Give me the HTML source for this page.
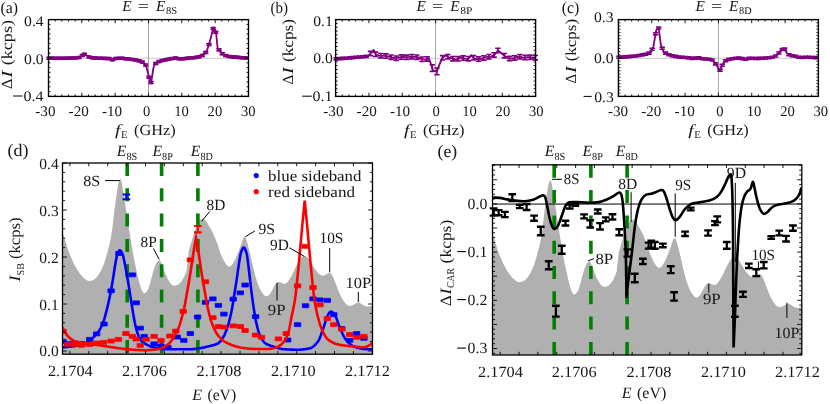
<!DOCTYPE html>
<html><head><meta charset="utf-8"><title>figure</title>
<style>html,body{margin:0;padding:0;background:#fff}svg{display:block;will-change:transform}text{font-family:"Liberation Serif",serif;fill:#161616;text-rendering:geometricPrecision}</style>
</head><body>
<svg width="830" height="404" viewBox="0 0 830 404">
<rect width="830" height="404" fill="#fff"/>
<line x1="48.5" y1="58.3" x2="248.5" y2="58.3" stroke="#c8c8c8" stroke-width="1.1"/>
<line x1="148.5" y1="19.6" x2="148.5" y2="96.4" stroke="#9a9a9a" stroke-width="0.9"/>
<path d="M48.5,58.2 L60.0,58.3 L70.0,58.2 L77.0,58.0 L80.0,57.2 L82.5,55.4 L84.3,54.3 L86.5,55.2 L89.5,57.2 L93.0,58.0 L100.0,58.3 L108.0,58.4 L111.0,59.0 L112.5,59.8 L114.5,58.8 L118.0,58.3 L122.0,58.3 L126.0,58.8 L130.0,59.2 L134.0,59.7 L137.0,60.3 L140.0,61.0 L142.5,62.2 L144.5,63.6 L146.0,65.5 L147.3,70.5 L148.8,76.5 L150.0,80.5 L151.0,82.5 L152.2,76.0 L153.4,68.0 L155.0,64.0 L157.0,62.4 L160.0,61.2 L164.0,60.0 L168.0,59.3 L172.0,58.6 L175.0,58.0 L178.0,58.6 L180.5,59.2 L184.0,58.5 L188.0,58.2 L192.0,57.9 L196.0,57.3 L199.0,56.8 L202.0,55.6 L204.5,53.8 L206.5,51.5 L208.8,45.2 L211.0,37.0 L213.2,28.6 L214.8,29.5 L216.2,34.0 L217.6,48.0 L219.5,50.5 L222.0,53.5 L225.0,55.4 L228.0,56.4 L232.0,56.9 L237.0,57.2 L242.0,57.7 L248.5,58.0" fill="none" stroke="#800080" stroke-width="1.8" stroke-linejoin="round"/>
<g fill="#800080"><circle cx="49.0" cy="58.2" r="1.85"/><path d="M49.0,57.2V59.2M46.3,57.2h5.4M46.3,59.2h5.4" stroke="#800080" stroke-width="1.5" fill="none"/><circle cx="52.3" cy="58.2" r="1.85"/><path d="M52.3,57.2V59.2M49.6,57.2h5.4M49.6,59.2h5.4" stroke="#800080" stroke-width="1.5" fill="none"/><circle cx="55.7" cy="58.3" r="1.85"/><path d="M55.7,57.3V59.3M53.0,57.3h5.4M53.0,59.3h5.4" stroke="#800080" stroke-width="1.5" fill="none"/><circle cx="59.0" cy="58.3" r="1.85"/><path d="M59.0,57.3V59.3M56.3,57.3h5.4M56.3,59.3h5.4" stroke="#800080" stroke-width="1.5" fill="none"/><circle cx="62.3" cy="58.3" r="1.85"/><path d="M62.3,57.3V59.3M59.6,57.3h5.4M59.6,59.3h5.4" stroke="#800080" stroke-width="1.5" fill="none"/><circle cx="65.7" cy="58.2" r="1.85"/><path d="M65.7,57.2V59.2M63.0,57.2h5.4M63.0,59.2h5.4" stroke="#800080" stroke-width="1.5" fill="none"/><circle cx="69.0" cy="58.2" r="1.85"/><path d="M69.0,57.2V59.2M66.3,57.2h5.4M66.3,59.2h5.4" stroke="#800080" stroke-width="1.5" fill="none"/><circle cx="72.3" cy="58.1" r="1.85"/><path d="M72.3,57.1V59.1M69.6,57.1h5.4M69.6,59.1h5.4" stroke="#800080" stroke-width="1.5" fill="none"/><circle cx="75.7" cy="58.0" r="1.85"/><path d="M75.7,57.0V59.0M73.0,57.0h5.4M73.0,59.0h5.4" stroke="#800080" stroke-width="1.5" fill="none"/><circle cx="79.0" cy="57.5" r="1.85"/><path d="M79.0,56.5V58.5M76.3,56.5h5.4M76.3,58.5h5.4" stroke="#800080" stroke-width="1.5" fill="none"/><circle cx="82.3" cy="55.5" r="1.85"/><path d="M82.3,54.5V56.5M79.6,54.5h5.4M79.6,56.5h5.4" stroke="#800080" stroke-width="1.5" fill="none"/><circle cx="84.3" cy="54.3" r="1.85"/><path d="M84.3,53.3V55.3M81.6,53.3h5.4M81.6,55.3h5.4" stroke="#800080" stroke-width="1.5" fill="none"/><circle cx="89.0" cy="56.9" r="1.85"/><path d="M89.0,55.9V57.9M86.3,55.9h5.4M86.3,57.9h5.4" stroke="#800080" stroke-width="1.5" fill="none"/><circle cx="92.3" cy="57.8" r="1.85"/><path d="M92.3,56.8V58.8M89.6,56.8h5.4M89.6,58.8h5.4" stroke="#800080" stroke-width="1.5" fill="none"/><circle cx="95.7" cy="58.1" r="1.85"/><path d="M95.7,57.1V59.1M93.0,57.1h5.4M93.0,59.1h5.4" stroke="#800080" stroke-width="1.5" fill="none"/><circle cx="99.0" cy="58.3" r="1.85"/><path d="M99.0,57.3V59.3M96.3,57.3h5.4M96.3,59.3h5.4" stroke="#800080" stroke-width="1.5" fill="none"/><circle cx="102.3" cy="58.3" r="1.85"/><path d="M102.3,57.3V59.3M99.6,57.3h5.4M99.6,59.3h5.4" stroke="#800080" stroke-width="1.5" fill="none"/><circle cx="105.7" cy="58.4" r="1.85"/><path d="M105.7,57.4V59.4M103.0,57.4h5.4M103.0,59.4h5.4" stroke="#800080" stroke-width="1.5" fill="none"/><circle cx="109.0" cy="58.6" r="1.85"/><path d="M109.0,57.6V59.6M106.3,57.6h5.4M106.3,59.6h5.4" stroke="#800080" stroke-width="1.5" fill="none"/><circle cx="112.3" cy="59.7" r="1.85"/><path d="M112.3,58.7V60.7M109.6,58.7h5.4M109.6,60.7h5.4" stroke="#800080" stroke-width="1.5" fill="none"/><circle cx="115.7" cy="58.6" r="1.85"/><path d="M115.7,57.6V59.6M113.0,57.6h5.4M113.0,59.6h5.4" stroke="#800080" stroke-width="1.5" fill="none"/><circle cx="119.0" cy="58.3" r="1.85"/><path d="M119.0,57.3V59.3M116.3,57.3h5.4M116.3,59.3h5.4" stroke="#800080" stroke-width="1.5" fill="none"/><circle cx="122.3" cy="58.3" r="1.85"/><path d="M122.3,57.3V59.3M119.6,57.3h5.4M119.6,59.3h5.4" stroke="#800080" stroke-width="1.5" fill="none"/><circle cx="125.7" cy="58.8" r="1.85"/><path d="M125.7,57.8V59.8M123.0,57.8h5.4M123.0,59.8h5.4" stroke="#800080" stroke-width="1.5" fill="none"/><circle cx="129.0" cy="59.1" r="1.85"/><path d="M129.0,58.1V60.1M126.3,58.1h5.4M126.3,60.1h5.4" stroke="#800080" stroke-width="1.5" fill="none"/><circle cx="132.3" cy="59.5" r="1.85"/><path d="M132.3,58.5V60.5M129.6,58.5h5.4M129.6,60.5h5.4" stroke="#800080" stroke-width="1.5" fill="none"/><circle cx="135.7" cy="60.0" r="1.85"/><path d="M135.7,59.0V61.0M133.0,59.0h5.4M133.0,61.0h5.4" stroke="#800080" stroke-width="1.5" fill="none"/><circle cx="139.0" cy="60.8" r="1.85"/><path d="M139.0,59.8V61.8M136.3,59.8h5.4M136.3,61.8h5.4" stroke="#800080" stroke-width="1.5" fill="none"/><circle cx="142.3" cy="62.1" r="1.85"/><path d="M142.3,61.1V63.1M139.6,61.1h5.4M139.6,63.1h5.4" stroke="#800080" stroke-width="1.5" fill="none"/><circle cx="145.7" cy="65.1" r="1.85"/><path d="M145.7,64.1V66.1M143.0,64.1h5.4M143.0,66.1h5.4" stroke="#800080" stroke-width="1.5" fill="none"/><circle cx="149.0" cy="77.2" r="1.85"/><path d="M149.0,76.2V78.2M146.3,76.2h5.4M146.3,78.2h5.4" stroke="#800080" stroke-width="1.5" fill="none"/><circle cx="151.0" cy="82.5" r="1.85"/><path d="M151.0,81.5V83.5M148.3,81.5h5.4M148.3,83.5h5.4" stroke="#800080" stroke-width="1.5" fill="none"/><circle cx="155.7" cy="63.5" r="1.85"/><path d="M155.7,62.5V64.5M153.0,62.5h5.4M153.0,64.5h5.4" stroke="#800080" stroke-width="1.5" fill="none"/><circle cx="159.0" cy="61.6" r="1.85"/><path d="M159.0,60.6V62.6M156.3,60.6h5.4M156.3,62.6h5.4" stroke="#800080" stroke-width="1.5" fill="none"/><circle cx="162.3" cy="60.5" r="1.85"/><path d="M162.3,59.5V61.5M159.6,59.5h5.4M159.6,61.5h5.4" stroke="#800080" stroke-width="1.5" fill="none"/><circle cx="165.7" cy="59.7" r="1.85"/><path d="M165.7,58.7V60.7M163.0,58.7h5.4M163.0,60.7h5.4" stroke="#800080" stroke-width="1.5" fill="none"/><circle cx="169.0" cy="59.1" r="1.85"/><path d="M169.0,58.1V60.1M166.3,58.1h5.4M166.3,60.1h5.4" stroke="#800080" stroke-width="1.5" fill="none"/><circle cx="172.3" cy="58.5" r="1.85"/><path d="M172.3,57.5V59.5M169.6,57.5h5.4M169.6,59.5h5.4" stroke="#800080" stroke-width="1.5" fill="none"/><circle cx="175.7" cy="58.1" r="1.85"/><path d="M175.7,57.1V59.1M173.0,57.1h5.4M173.0,59.1h5.4" stroke="#800080" stroke-width="1.5" fill="none"/><circle cx="179.0" cy="58.8" r="1.85"/><path d="M179.0,57.8V59.8M176.3,57.8h5.4M176.3,59.8h5.4" stroke="#800080" stroke-width="1.5" fill="none"/><circle cx="182.3" cy="58.8" r="1.85"/><path d="M182.3,57.8V59.8M179.6,57.8h5.4M179.6,59.8h5.4" stroke="#800080" stroke-width="1.5" fill="none"/><circle cx="185.7" cy="58.4" r="1.85"/><path d="M185.7,57.4V59.4M183.0,57.4h5.4M183.0,59.4h5.4" stroke="#800080" stroke-width="1.5" fill="none"/><circle cx="189.0" cy="58.1" r="1.85"/><path d="M189.0,57.1V59.1M186.3,57.1h5.4M186.3,59.1h5.4" stroke="#800080" stroke-width="1.5" fill="none"/><circle cx="192.3" cy="57.8" r="1.85"/><path d="M192.3,56.8V58.8M189.6,56.8h5.4M189.6,58.8h5.4" stroke="#800080" stroke-width="1.5" fill="none"/><circle cx="195.7" cy="57.4" r="1.85"/><path d="M195.7,56.4V58.4M193.0,56.4h5.4M193.0,58.4h5.4" stroke="#800080" stroke-width="1.5" fill="none"/><circle cx="199.0" cy="56.8" r="1.85"/><path d="M199.0,55.8V57.8M196.3,55.8h5.4M196.3,57.8h5.4" stroke="#800080" stroke-width="1.5" fill="none"/><circle cx="202.3" cy="55.4" r="1.85"/><path d="M202.3,54.4V56.4M199.6,54.4h5.4M199.6,56.4h5.4" stroke="#800080" stroke-width="1.5" fill="none"/><circle cx="205.7" cy="52.5" r="1.85"/><path d="M205.7,51.5V53.5M203.0,51.5h5.4M203.0,53.5h5.4" stroke="#800080" stroke-width="1.5" fill="none"/><circle cx="209.0" cy="44.5" r="1.85"/><path d="M209.0,43.5V45.5M206.3,43.5h5.4M206.3,45.5h5.4" stroke="#800080" stroke-width="1.5" fill="none"/><circle cx="213.2" cy="28.6" r="1.85"/><path d="M213.2,27.6V29.6M210.5,27.6h5.4M210.5,29.6h5.4" stroke="#800080" stroke-width="1.5" fill="none"/><circle cx="215.7" cy="32.3" r="1.85"/><path d="M215.7,31.3V33.3M213.0,31.3h5.4M213.0,33.3h5.4" stroke="#800080" stroke-width="1.5" fill="none"/><circle cx="219.0" cy="49.8" r="1.85"/><path d="M219.0,48.8V50.8M216.3,48.8h5.4M216.3,50.8h5.4" stroke="#800080" stroke-width="1.5" fill="none"/><circle cx="222.3" cy="53.7" r="1.85"/><path d="M222.3,52.7V54.7M219.6,52.7h5.4M219.6,54.7h5.4" stroke="#800080" stroke-width="1.5" fill="none"/><circle cx="225.7" cy="55.6" r="1.85"/><path d="M225.7,54.6V56.6M223.0,54.6h5.4M223.0,56.6h5.4" stroke="#800080" stroke-width="1.5" fill="none"/><circle cx="229.0" cy="56.5" r="1.85"/><path d="M229.0,55.5V57.5M226.3,55.5h5.4M226.3,57.5h5.4" stroke="#800080" stroke-width="1.5" fill="none"/><circle cx="232.3" cy="56.9" r="1.85"/><path d="M232.3,55.9V57.9M229.6,55.9h5.4M229.6,57.9h5.4" stroke="#800080" stroke-width="1.5" fill="none"/><circle cx="235.7" cy="57.1" r="1.85"/><path d="M235.7,56.1V58.1M233.0,56.1h5.4M233.0,58.1h5.4" stroke="#800080" stroke-width="1.5" fill="none"/><circle cx="239.0" cy="57.4" r="1.85"/><path d="M239.0,56.4V58.4M236.3,56.4h5.4M236.3,58.4h5.4" stroke="#800080" stroke-width="1.5" fill="none"/><circle cx="242.3" cy="57.7" r="1.85"/><path d="M242.3,56.7V58.7M239.6,56.7h5.4M239.6,58.7h5.4" stroke="#800080" stroke-width="1.5" fill="none"/><circle cx="245.7" cy="57.9" r="1.85"/><path d="M245.7,56.9V58.9M243.0,56.9h5.4M243.0,58.9h5.4" stroke="#800080" stroke-width="1.5" fill="none"/></g>
<rect x="48.5" y="19.6" width="200.0" height="76.8" fill="none" stroke="#000" stroke-width="1.35"/>
<path d="M48.50,96.4v-3.6M48.50,19.6v3.6M55.17,96.4v-2.0M55.17,19.6v2.0M61.83,96.4v-2.0M61.83,19.6v2.0M68.50,96.4v-2.0M68.50,19.6v2.0M75.17,96.4v-2.0M75.17,19.6v2.0M81.83,96.4v-3.6M81.83,19.6v3.6M88.50,96.4v-2.0M88.50,19.6v2.0M95.17,96.4v-2.0M95.17,19.6v2.0M101.83,96.4v-2.0M101.83,19.6v2.0M108.50,96.4v-2.0M108.50,19.6v2.0M115.17,96.4v-3.6M115.17,19.6v3.6M121.83,96.4v-2.0M121.83,19.6v2.0M128.50,96.4v-2.0M128.50,19.6v2.0M135.17,96.4v-2.0M135.17,19.6v2.0M141.83,96.4v-2.0M141.83,19.6v2.0M148.50,96.4v-3.6M148.50,19.6v3.6M155.17,96.4v-2.0M155.17,19.6v2.0M161.83,96.4v-2.0M161.83,19.6v2.0M168.50,96.4v-2.0M168.50,19.6v2.0M175.17,96.4v-2.0M175.17,19.6v2.0M181.83,96.4v-3.6M181.83,19.6v3.6M188.50,96.4v-2.0M188.50,19.6v2.0M195.17,96.4v-2.0M195.17,19.6v2.0M201.83,96.4v-2.0M201.83,19.6v2.0M208.50,96.4v-2.0M208.50,19.6v2.0M215.17,96.4v-3.6M215.17,19.6v3.6M221.83,96.4v-2.0M221.83,19.6v2.0M228.50,96.4v-2.0M228.50,19.6v2.0M235.17,96.4v-2.0M235.17,19.6v2.0M241.83,96.4v-2.0M241.83,19.6v2.0M248.50,96.4v-3.6M248.50,19.6v3.6M48.5,19.60h3.6M248.5,19.60h-3.6M48.5,24.40h2.0M248.5,24.40h-2.0M48.5,29.20h2.0M248.5,29.20h-2.0M48.5,34.00h2.0M248.5,34.00h-2.0M48.5,38.80h2.0M248.5,38.80h-2.0M48.5,43.60h2.0M248.5,43.60h-2.0M48.5,48.40h2.0M248.5,48.40h-2.0M48.5,53.20h2.0M248.5,53.20h-2.0M48.5,58.00h3.6M248.5,58.00h-3.6M48.5,62.80h2.0M248.5,62.80h-2.0M48.5,67.60h2.0M248.5,67.60h-2.0M48.5,72.40h2.0M248.5,72.40h-2.0M48.5,77.20h2.0M248.5,77.20h-2.0M48.5,82.00h2.0M248.5,82.00h-2.0M48.5,86.80h2.0M248.5,86.80h-2.0M48.5,91.60h2.0M248.5,91.60h-2.0M48.5,96.40h3.6M248.5,96.40h-3.6" stroke="#000" stroke-width="0.9" fill="none"/>
<text x="35.3" y="115.6" font-size="14.6" textLength="20.2" lengthAdjust="spacingAndGlyphs" text-anchor="start" >-30</text>
<text x="68.6" y="115.6" font-size="14.6" textLength="20.2" lengthAdjust="spacingAndGlyphs" text-anchor="start" >-20</text>
<text x="102.0" y="115.6" font-size="14.6" textLength="20.2" lengthAdjust="spacingAndGlyphs" text-anchor="start" >-10</text>
<text x="142.9" y="115.6" font-size="14.6" textLength="7.3" lengthAdjust="spacingAndGlyphs" text-anchor="start" >0</text>
<text x="174.2" y="115.6" font-size="14.6" textLength="14.6" lengthAdjust="spacingAndGlyphs" text-anchor="start" >10</text>
<text x="207.6" y="115.6" font-size="14.6" textLength="14.6" lengthAdjust="spacingAndGlyphs" text-anchor="start" >20</text>
<text x="240.9" y="115.6" font-size="14.6" textLength="14.6" lengthAdjust="spacingAndGlyphs" text-anchor="start" >30</text>
<text x="24.1" y="26.2" font-size="14.6" textLength="19.6" lengthAdjust="spacingAndGlyphs" text-anchor="start" >0.4</text>
<text x="24.1" y="63.5" font-size="14.6" textLength="19.6" lengthAdjust="spacingAndGlyphs" text-anchor="start" >0.0</text>
<line x1="13.1" y1="96.0" x2="22.7" y2="96.0" stroke="#000" stroke-width="1.0"/>
<text x="23.5" y="101.1" font-size="14.6" textLength="20.0" lengthAdjust="spacingAndGlyphs" text-anchor="start" >0.4</text>
<text x="0.5" y="13.2" font-size="16.4" textLength="17.6" lengthAdjust="spacingAndGlyphs" text-anchor="start" >(a)</text>
<text x="122.3" y="11.2" font-size="15.2" font-style="italic" textLength="9.4" lengthAdjust="spacingAndGlyphs" text-anchor="start" >E</text>
<text x="137.8" y="11.2" font-size="15.2" textLength="11.2" lengthAdjust="spacingAndGlyphs" text-anchor="start" >=</text>
<text x="155.9" y="11.2" font-size="15.2" font-style="italic" textLength="9.4" lengthAdjust="spacingAndGlyphs" text-anchor="start" >E</text>
<text x="165.9" y="14.3" font-size="10.4" textLength="11.2" lengthAdjust="spacingAndGlyphs" text-anchor="start" >8S</text>
<text x="115.0" y="135.3" font-size="15.4" font-style="italic" textLength="5.5" lengthAdjust="spacingAndGlyphs" text-anchor="start" >f</text>
<text x="121.0" y="138.2" font-size="10.2" textLength="6.6" lengthAdjust="spacingAndGlyphs" text-anchor="start" >E</text>
<text x="134.0" y="135.3" font-size="15.4" textLength="41.6" lengthAdjust="spacingAndGlyphs" text-anchor="start" >(GHz)</text>
<g transform="translate(11.6,89.0) rotate(-90)">
<text x="0.0" y="0.0" font-size="15.4" textLength="10.3" lengthAdjust="spacingAndGlyphs" text-anchor="start" >Δ</text>
<text x="11.2" y="0.0" font-size="15.4" font-style="italic" textLength="7.2" lengthAdjust="spacingAndGlyphs" text-anchor="start" >I</text>
<text x="23.7" y="0.0" font-size="15.4" textLength="45.3" lengthAdjust="spacingAndGlyphs" text-anchor="start" >(kcps)</text>
</g>
<line x1="335.6" y1="58.3" x2="535.6" y2="58.3" stroke="#c8c8c8" stroke-width="1.1"/>
<line x1="435.6" y1="19.6" x2="435.6" y2="96.4" stroke="#9a9a9a" stroke-width="0.9"/>
<path d="M335.6,58.9 L345.0,58.3 L355.0,57.4 L362.0,56.8 L368.0,56.2 L370.5,53.6 L373.7,49.9 L375.8,54.6 L379.0,55.6 L384.0,55.9 L388.0,56.4 L392.0,57.4 L395.5,58.4 L399.0,57.4 L403.0,56.9 L407.0,57.4 L411.0,56.6 L415.0,56.9 L418.0,57.4 L421.5,59.2 L425.5,59.6 L428.8,58.1 L431.0,64.4 L433.2,70.7 L436.9,71.4 L439.5,64.4 L442.2,58.1 L445.8,55.2 L449.0,57.6 L452.0,58.4 L456.3,59.6 L459.0,58.4 L461.5,57.7 L465.0,58.6 L467.9,59.2 L471.4,55.2 L474.2,58.7 L477.0,59.0 L480.5,59.2 L483.0,58.2 L485.7,57.1 L488.0,56.8 L491.0,56.6 L493.5,55.4 L495.2,53.9 L497.9,50.5 L501.5,53.3 L504.7,56.0 L508.9,58.5 L511.5,58.3 L514.1,58.1 L517.0,57.2 L519.4,56.6 L523.6,57.7 L527.8,57.1 L532.0,57.5 L535.6,57.7" fill="none" stroke="#800080" stroke-width="1.8" stroke-linejoin="round"/>
<g fill="#800080"><path d="M336.2,57.9V59.9M333.5,57.9h5.4M333.5,59.9h5.4" stroke="#800080" stroke-width="1.6" fill="none"/><path d="M339.5,57.6V59.6M336.8,57.6h5.4M336.8,59.6h5.4" stroke="#800080" stroke-width="1.6" fill="none"/><path d="M342.9,57.4V59.4M340.2,57.4h5.4M340.2,59.4h5.4" stroke="#800080" stroke-width="1.6" fill="none"/><path d="M346.2,57.2V59.2M343.5,57.2h5.4M343.5,59.2h5.4" stroke="#800080" stroke-width="1.6" fill="none"/><path d="M349.5,56.9V58.9M346.8,56.9h5.4M346.8,58.9h5.4" stroke="#800080" stroke-width="1.6" fill="none"/><path d="M352.8,56.6V58.6M350.1,56.6h5.4M350.1,58.6h5.4" stroke="#800080" stroke-width="1.6" fill="none"/><path d="M356.2,56.3V58.3M353.5,56.3h5.4M353.5,58.3h5.4" stroke="#800080" stroke-width="1.6" fill="none"/><path d="M359.5,56.0V58.0M356.8,56.0h5.4M356.8,58.0h5.4" stroke="#800080" stroke-width="1.6" fill="none"/><path d="M362.8,55.7V57.7M360.1,55.7h5.4M360.1,57.7h5.4" stroke="#800080" stroke-width="1.6" fill="none"/><path d="M366.2,55.4V57.4M363.5,55.4h5.4M363.5,57.4h5.4" stroke="#800080" stroke-width="1.6" fill="none"/><path d="M370.5,51.4V55.8M367.8,51.4h5.4M367.8,55.8h5.4" stroke="#800080" stroke-width="1.6" fill="none"/><path d="M375.6,52.1V56.5M372.9,52.1h5.4M372.9,56.5h5.4" stroke="#800080" stroke-width="1.6" fill="none"/><path d="M380.8,53.5V57.9M378.1,53.5h5.4M378.1,57.9h5.4" stroke="#800080" stroke-width="1.6" fill="none"/><path d="M385.9,53.9V58.3M383.2,53.9h5.4M383.2,58.3h5.4" stroke="#800080" stroke-width="1.6" fill="none"/><path d="M391.1,55.0V59.4M388.4,55.0h5.4M388.4,59.4h5.4" stroke="#800080" stroke-width="1.6" fill="none"/><path d="M396.2,56.0V60.4M393.6,56.0h5.4M393.6,60.4h5.4" stroke="#800080" stroke-width="1.6" fill="none"/><path d="M401.4,54.9V59.3M398.7,54.9h5.4M398.7,59.3h5.4" stroke="#800080" stroke-width="1.6" fill="none"/><path d="M406.6,55.1V59.5M403.9,55.1h5.4M403.9,59.5h5.4" stroke="#800080" stroke-width="1.6" fill="none"/><path d="M411.7,54.5V58.9M409.0,54.5h5.4M409.0,58.9h5.4" stroke="#800080" stroke-width="1.6" fill="none"/><path d="M416.9,55.0V59.4M414.2,55.0h5.4M414.2,59.4h5.4" stroke="#800080" stroke-width="1.6" fill="none"/><path d="M422.0,57.0V61.5M419.3,57.0h5.4M419.3,61.5h5.4" stroke="#800080" stroke-width="1.6" fill="none"/><path d="M427.1,56.7V61.1M424.4,56.7h5.4M424.4,61.1h5.4" stroke="#800080" stroke-width="1.6" fill="none"/><path d="M432.3,64.7V71.5M429.6,64.7h5.4M429.6,71.5h5.4" stroke="#800080" stroke-width="1.6" fill="none"/><path d="M436.9,68.0V74.8M434.2,68.0h5.4M434.2,74.8h5.4" stroke="#800080" stroke-width="1.6" fill="none"/><path d="M442.6,55.6V60.0M439.9,55.6h5.4M439.9,60.0h5.4" stroke="#800080" stroke-width="1.6" fill="none"/><path d="M447.8,54.5V58.9M445.1,54.5h5.4M445.1,58.9h5.4" stroke="#800080" stroke-width="1.6" fill="none"/><path d="M452.9,56.5V60.9M450.2,56.5h5.4M450.2,60.9h5.4" stroke="#800080" stroke-width="1.6" fill="none"/><path d="M458.1,56.6V61.0M455.4,56.6h5.4M455.4,61.0h5.4" stroke="#800080" stroke-width="1.6" fill="none"/><path d="M463.2,55.9V60.3M460.5,55.9h5.4M460.5,60.3h5.4" stroke="#800080" stroke-width="1.6" fill="none"/><path d="M468.4,56.5V60.9M465.7,56.5h5.4M465.7,60.9h5.4" stroke="#800080" stroke-width="1.6" fill="none"/><path d="M473.5,55.6V60.0M470.8,55.6h5.4M470.8,60.0h5.4" stroke="#800080" stroke-width="1.6" fill="none"/><path d="M478.6,56.9V61.3M475.9,56.9h5.4M475.9,61.3h5.4" stroke="#800080" stroke-width="1.6" fill="none"/><path d="M483.8,55.7V60.1M481.1,55.7h5.4M481.1,60.1h5.4" stroke="#800080" stroke-width="1.6" fill="none"/><path d="M488.9,54.5V58.9M486.2,54.5h5.4M486.2,58.9h5.4" stroke="#800080" stroke-width="1.6" fill="none"/><path d="M494.1,52.7V57.1M491.4,52.7h5.4M491.4,57.1h5.4" stroke="#800080" stroke-width="1.6" fill="none"/><path d="M497.9,48.3V52.7M495.2,48.3h5.4M495.2,52.7h5.4" stroke="#800080" stroke-width="1.6" fill="none"/><path d="M504.4,53.5V57.9M501.7,53.5h5.4M501.7,57.9h5.4" stroke="#800080" stroke-width="1.6" fill="none"/><path d="M509.6,56.2V60.6M506.9,56.2h5.4M506.9,60.6h5.4" stroke="#800080" stroke-width="1.6" fill="none"/><path d="M514.7,55.7V60.1M512.0,55.7h5.4M512.0,60.1h5.4" stroke="#800080" stroke-width="1.6" fill="none"/><path d="M519.9,54.5V58.9M517.1,54.5h5.4M517.1,58.9h5.4" stroke="#800080" stroke-width="1.6" fill="none"/><path d="M525.0,55.3V59.7M522.3,55.3h5.4M522.3,59.7h5.4" stroke="#800080" stroke-width="1.6" fill="none"/><path d="M530.1,55.1V59.5M527.4,55.1h5.4M527.4,59.5h5.4" stroke="#800080" stroke-width="1.6" fill="none"/><path d="M535.3,55.5V59.9M532.6,55.5h5.4M532.6,59.9h5.4" stroke="#800080" stroke-width="1.6" fill="none"/></g>
<rect x="335.6" y="19.6" width="200.0" height="76.8" fill="none" stroke="#000" stroke-width="1.35"/>
<path d="M335.60,96.4v-3.6M335.60,19.6v3.6M342.27,96.4v-2.0M342.27,19.6v2.0M348.93,96.4v-2.0M348.93,19.6v2.0M355.60,96.4v-2.0M355.60,19.6v2.0M362.27,96.4v-2.0M362.27,19.6v2.0M368.93,96.4v-3.6M368.93,19.6v3.6M375.60,96.4v-2.0M375.60,19.6v2.0M382.27,96.4v-2.0M382.27,19.6v2.0M388.93,96.4v-2.0M388.93,19.6v2.0M395.60,96.4v-2.0M395.60,19.6v2.0M402.27,96.4v-3.6M402.27,19.6v3.6M408.93,96.4v-2.0M408.93,19.6v2.0M415.60,96.4v-2.0M415.60,19.6v2.0M422.27,96.4v-2.0M422.27,19.6v2.0M428.93,96.4v-2.0M428.93,19.6v2.0M435.60,96.4v-3.6M435.60,19.6v3.6M442.27,96.4v-2.0M442.27,19.6v2.0M448.93,96.4v-2.0M448.93,19.6v2.0M455.60,96.4v-2.0M455.60,19.6v2.0M462.27,96.4v-2.0M462.27,19.6v2.0M468.93,96.4v-3.6M468.93,19.6v3.6M475.60,96.4v-2.0M475.60,19.6v2.0M482.27,96.4v-2.0M482.27,19.6v2.0M488.93,96.4v-2.0M488.93,19.6v2.0M495.60,96.4v-2.0M495.60,19.6v2.0M502.27,96.4v-3.6M502.27,19.6v3.6M508.93,96.4v-2.0M508.93,19.6v2.0M515.60,96.4v-2.0M515.60,19.6v2.0M522.27,96.4v-2.0M522.27,19.6v2.0M528.93,96.4v-2.0M528.93,19.6v2.0M535.60,96.4v-3.6M535.60,19.6v3.6M335.6,19.60h3.6M535.6,19.60h-3.6M335.6,23.44h2.0M535.6,23.44h-2.0M335.6,27.28h2.0M535.6,27.28h-2.0M335.6,31.12h2.0M535.6,31.12h-2.0M335.6,34.96h2.0M535.6,34.96h-2.0M335.6,38.80h2.0M535.6,38.80h-2.0M335.6,42.64h2.0M535.6,42.64h-2.0M335.6,46.48h2.0M535.6,46.48h-2.0M335.6,50.32h2.0M535.6,50.32h-2.0M335.6,54.16h2.0M535.6,54.16h-2.0M335.6,58.00h3.6M535.6,58.00h-3.6M335.6,61.84h2.0M535.6,61.84h-2.0M335.6,65.68h2.0M535.6,65.68h-2.0M335.6,69.52h2.0M535.6,69.52h-2.0M335.6,73.36h2.0M535.6,73.36h-2.0M335.6,77.20h2.0M535.6,77.20h-2.0M335.6,81.04h2.0M535.6,81.04h-2.0M335.6,84.88h2.0M535.6,84.88h-2.0M335.6,88.72h2.0M535.6,88.72h-2.0M335.6,92.56h2.0M535.6,92.56h-2.0M335.6,96.40h3.6M535.6,96.40h-3.6" stroke="#000" stroke-width="0.9" fill="none"/>
<text x="323.3" y="115.6" font-size="14.6" textLength="20.2" lengthAdjust="spacingAndGlyphs" text-anchor="start" >-30</text>
<text x="356.6" y="115.6" font-size="14.6" textLength="20.2" lengthAdjust="spacingAndGlyphs" text-anchor="start" >-20</text>
<text x="390.0" y="115.6" font-size="14.6" textLength="20.2" lengthAdjust="spacingAndGlyphs" text-anchor="start" >-10</text>
<text x="432.6" y="115.6" font-size="14.6" textLength="7.3" lengthAdjust="spacingAndGlyphs" text-anchor="start" >0</text>
<text x="462.2" y="115.6" font-size="14.6" textLength="14.6" lengthAdjust="spacingAndGlyphs" text-anchor="start" >10</text>
<text x="495.6" y="115.6" font-size="14.6" textLength="14.6" lengthAdjust="spacingAndGlyphs" text-anchor="start" >20</text>
<text x="528.9" y="115.6" font-size="14.6" textLength="14.6" lengthAdjust="spacingAndGlyphs" text-anchor="start" >30</text>
<text x="313.2" y="26.2" font-size="14.6" textLength="19.6" lengthAdjust="spacingAndGlyphs" text-anchor="start" >0.1</text>
<text x="313.2" y="63.3" font-size="14.6" textLength="19.6" lengthAdjust="spacingAndGlyphs" text-anchor="start" >0.0</text>
<line x1="302.2" y1="96.2" x2="311.8" y2="96.2" stroke="#000" stroke-width="1.0"/>
<text x="312.6" y="101.3" font-size="14.6" textLength="20.0" lengthAdjust="spacingAndGlyphs" text-anchor="start" >0.1</text>
<text x="270.5" y="13.2" font-size="16.4" textLength="17.6" lengthAdjust="spacingAndGlyphs" text-anchor="start" >(b)</text>
<text x="416.6" y="11.2" font-size="15.2" font-style="italic" textLength="9.4" lengthAdjust="spacingAndGlyphs" text-anchor="start" >E</text>
<text x="432.1" y="11.2" font-size="15.2" textLength="11.2" lengthAdjust="spacingAndGlyphs" text-anchor="start" >=</text>
<text x="450.2" y="11.2" font-size="15.2" font-style="italic" textLength="9.4" lengthAdjust="spacingAndGlyphs" text-anchor="start" >E</text>
<text x="460.2" y="14.3" font-size="10.4" textLength="12.2" lengthAdjust="spacingAndGlyphs" text-anchor="start" >8P</text>
<text x="403.9" y="135.3" font-size="15.4" font-style="italic" textLength="5.5" lengthAdjust="spacingAndGlyphs" text-anchor="start" >f</text>
<text x="409.9" y="138.2" font-size="10.2" textLength="6.6" lengthAdjust="spacingAndGlyphs" text-anchor="start" >E</text>
<text x="422.9" y="135.3" font-size="15.4" textLength="41.6" lengthAdjust="spacingAndGlyphs" text-anchor="start" >(GHz)</text>
<g transform="translate(293.4,84.6) rotate(-90)">
<text x="0.0" y="0.0" font-size="15.4" textLength="9.9" lengthAdjust="spacingAndGlyphs" text-anchor="start" >Δ</text>
<text x="10.7" y="0.0" font-size="15.4" font-style="italic" textLength="6.9" lengthAdjust="spacingAndGlyphs" text-anchor="start" >I</text>
<text x="22.5" y="0.0" font-size="15.4" textLength="43.2" lengthAdjust="spacingAndGlyphs" text-anchor="start" >(kcps)</text>
</g>
<line x1="618.4" y1="58.3" x2="818.4" y2="58.3" stroke="#c8c8c8" stroke-width="1.1"/>
<line x1="718.4" y1="19.6" x2="718.4" y2="96.4" stroke="#9a9a9a" stroke-width="0.9"/>
<path d="M618.4,57.3 L626.7,56.8 L635.1,56.1 L641.4,55.1 L646.7,53.9 L650.9,52.4 L653.4,46.5 L656.2,30.1 L658.7,28.0 L660.8,44.4 L663.5,51.8 L667.7,54.5 L673.0,56.0 L679.3,57.1 L685.6,57.5 L693.0,58.5 L698.2,57.7 L702.4,58.7 L708.7,59.2 L712.9,60.2 L715.5,63.8 L718.2,67.8 L720.0,70.1 L722.1,65.5 L724.6,61.3 L727.8,59.6 L733.0,58.5 L739.3,58.1 L745.6,59.2 L749.9,58.1 L756.2,58.5 L764.6,58.1 L770.9,57.5 L775.1,56.4 L778.2,53.9 L781.4,49.7 L784.6,49.1 L786.7,52.9 L789.8,55.4 L795.1,56.0 L800.3,57.7 L806.6,57.1 L813.0,57.5 L818.4,57.7" fill="none" stroke="#800080" stroke-width="1.8" stroke-linejoin="round"/>
<g fill="#800080"><path d="M618.9,56.3V58.3M616.2,56.3h5.4M616.2,58.3h5.4" stroke="#800080" stroke-width="1.6" fill="none"/><path d="M622.2,56.1V58.1M619.5,56.1h5.4M619.5,58.1h5.4" stroke="#800080" stroke-width="1.6" fill="none"/><path d="M625.6,55.9V57.9M622.9,55.9h5.4M622.9,57.9h5.4" stroke="#800080" stroke-width="1.6" fill="none"/><path d="M628.9,55.6V57.6M626.2,55.6h5.4M626.2,57.6h5.4" stroke="#800080" stroke-width="1.6" fill="none"/><path d="M632.2,55.3V57.3M629.5,55.3h5.4M629.5,57.3h5.4" stroke="#800080" stroke-width="1.6" fill="none"/><path d="M635.6,55.0V57.0M632.9,55.0h5.4M632.9,57.0h5.4" stroke="#800080" stroke-width="1.6" fill="none"/><path d="M638.9,54.5V56.5M636.2,54.5h5.4M636.2,56.5h5.4" stroke="#800080" stroke-width="1.6" fill="none"/><path d="M642.2,53.9V55.9M639.5,53.9h5.4M639.5,55.9h5.4" stroke="#800080" stroke-width="1.6" fill="none"/><path d="M645.6,53.2V55.2M642.9,53.2h5.4M642.9,55.2h5.4" stroke="#800080" stroke-width="1.6" fill="none"/><path d="M648.9,52.1V54.1M646.2,52.1h5.4M646.2,54.1h5.4" stroke="#800080" stroke-width="1.6" fill="none"/><path d="M652.2,48.3V50.3M649.5,48.3h5.4M649.5,50.3h5.4" stroke="#800080" stroke-width="1.6" fill="none"/><path d="M655.6,32.8V34.8M652.9,32.8h5.4M652.9,34.8h5.4" stroke="#800080" stroke-width="1.6" fill="none"/><path d="M658.7,27.0V29.0M656.0,27.0h5.4M656.0,29.0h5.4" stroke="#800080" stroke-width="1.6" fill="none"/><path d="M662.2,47.3V49.3M659.5,47.3h5.4M659.5,49.3h5.4" stroke="#800080" stroke-width="1.6" fill="none"/><path d="M665.6,52.1V54.1M662.9,52.1h5.4M662.9,54.1h5.4" stroke="#800080" stroke-width="1.6" fill="none"/><path d="M668.9,53.8V55.8M666.2,53.8h5.4M666.2,55.8h5.4" stroke="#800080" stroke-width="1.6" fill="none"/><path d="M672.2,54.8V56.8M669.5,54.8h5.4M669.5,56.8h5.4" stroke="#800080" stroke-width="1.6" fill="none"/><path d="M675.6,55.4V57.4M672.9,55.4h5.4M672.9,57.4h5.4" stroke="#800080" stroke-width="1.6" fill="none"/><path d="M678.9,56.0V58.0M676.2,56.0h5.4M676.2,58.0h5.4" stroke="#800080" stroke-width="1.6" fill="none"/><path d="M682.2,56.3V58.3M679.5,56.3h5.4M679.5,58.3h5.4" stroke="#800080" stroke-width="1.6" fill="none"/><path d="M685.6,56.5V58.5M682.9,56.5h5.4M682.9,58.5h5.4" stroke="#800080" stroke-width="1.6" fill="none"/><path d="M688.9,56.9V58.9M686.2,56.9h5.4M686.2,58.9h5.4" stroke="#800080" stroke-width="1.6" fill="none"/><path d="M692.2,57.4V59.4M689.5,57.4h5.4M689.5,59.4h5.4" stroke="#800080" stroke-width="1.6" fill="none"/><path d="M695.6,57.1V59.1M692.9,57.1h5.4M692.9,59.1h5.4" stroke="#800080" stroke-width="1.6" fill="none"/><path d="M698.9,56.9V58.9M696.2,56.9h5.4M696.2,58.9h5.4" stroke="#800080" stroke-width="1.6" fill="none"/><path d="M702.2,57.7V59.7M699.5,57.7h5.4M699.5,59.7h5.4" stroke="#800080" stroke-width="1.6" fill="none"/><path d="M705.6,58.0V60.0M702.9,58.0h5.4M702.9,60.0h5.4" stroke="#800080" stroke-width="1.6" fill="none"/><path d="M708.9,58.2V60.2M706.2,58.2h5.4M706.2,60.2h5.4" stroke="#800080" stroke-width="1.6" fill="none"/><path d="M712.2,59.0V61.0M709.5,59.0h5.4M709.5,61.0h5.4" stroke="#800080" stroke-width="1.6" fill="none"/><path d="M715.6,62.9V64.9M712.9,62.9h5.4M712.9,64.9h5.4" stroke="#800080" stroke-width="1.6" fill="none"/><path d="M720.0,69.1V71.1M717.3,69.1h5.4M717.3,71.1h5.4" stroke="#800080" stroke-width="1.6" fill="none"/><path d="M722.2,64.3V66.3M719.5,64.3h5.4M719.5,66.3h5.4" stroke="#800080" stroke-width="1.6" fill="none"/><path d="M725.6,59.8V61.8M722.9,59.8h5.4M722.9,61.8h5.4" stroke="#800080" stroke-width="1.6" fill="none"/><path d="M728.9,58.4V60.4M726.2,58.4h5.4M726.2,60.4h5.4" stroke="#800080" stroke-width="1.6" fill="none"/><path d="M732.2,57.7V59.7M729.5,57.7h5.4M729.5,59.7h5.4" stroke="#800080" stroke-width="1.6" fill="none"/><path d="M735.6,57.3V59.3M732.9,57.3h5.4M732.9,59.3h5.4" stroke="#800080" stroke-width="1.6" fill="none"/><path d="M738.9,57.1V59.1M736.2,57.1h5.4M736.2,59.1h5.4" stroke="#800080" stroke-width="1.6" fill="none"/><path d="M742.2,57.6V59.6M739.5,57.6h5.4M739.5,59.6h5.4" stroke="#800080" stroke-width="1.6" fill="none"/><path d="M745.6,58.2V60.2M742.9,58.2h5.4M742.9,60.2h5.4" stroke="#800080" stroke-width="1.6" fill="none"/><path d="M748.9,57.4V59.4M746.2,57.4h5.4M746.2,59.4h5.4" stroke="#800080" stroke-width="1.6" fill="none"/><path d="M752.2,57.2V59.2M749.5,57.2h5.4M749.5,59.2h5.4" stroke="#800080" stroke-width="1.6" fill="none"/><path d="M755.6,57.5V59.5M752.9,57.5h5.4M752.9,59.5h5.4" stroke="#800080" stroke-width="1.6" fill="none"/><path d="M758.9,57.4V59.4M756.2,57.4h5.4M756.2,59.4h5.4" stroke="#800080" stroke-width="1.6" fill="none"/><path d="M762.2,57.2V59.2M759.5,57.2h5.4M759.5,59.2h5.4" stroke="#800080" stroke-width="1.6" fill="none"/><path d="M765.6,57.0V59.0M762.9,57.0h5.4M762.9,59.0h5.4" stroke="#800080" stroke-width="1.6" fill="none"/><path d="M768.9,56.7V58.7M766.2,56.7h5.4M766.2,58.7h5.4" stroke="#800080" stroke-width="1.6" fill="none"/><path d="M772.2,56.2V58.2M769.5,56.2h5.4M769.5,58.2h5.4" stroke="#800080" stroke-width="1.6" fill="none"/><path d="M775.6,55.0V57.0M772.9,55.0h5.4M772.9,57.0h5.4" stroke="#800080" stroke-width="1.6" fill="none"/><path d="M778.9,52.0V54.0M776.2,52.0h5.4M776.2,54.0h5.4" stroke="#800080" stroke-width="1.6" fill="none"/><path d="M782.2,48.5V50.5M779.5,48.5h5.4M779.5,50.5h5.4" stroke="#800080" stroke-width="1.6" fill="none"/><path d="M784.6,48.1V50.1M781.9,48.1h5.4M781.9,50.1h5.4" stroke="#800080" stroke-width="1.6" fill="none"/><path d="M788.9,53.7V55.7M786.2,53.7h5.4M786.2,55.7h5.4" stroke="#800080" stroke-width="1.6" fill="none"/><path d="M792.2,54.7V56.7M789.5,54.7h5.4M789.5,56.7h5.4" stroke="#800080" stroke-width="1.6" fill="none"/><path d="M795.6,55.2V57.2M792.9,55.2h5.4M792.9,57.2h5.4" stroke="#800080" stroke-width="1.6" fill="none"/><path d="M798.9,56.2V58.2M796.2,56.2h5.4M796.2,58.2h5.4" stroke="#800080" stroke-width="1.6" fill="none"/><path d="M802.2,56.5V58.5M799.5,56.5h5.4M799.5,58.5h5.4" stroke="#800080" stroke-width="1.6" fill="none"/><path d="M805.6,56.2V58.2M802.9,56.2h5.4M802.9,58.2h5.4" stroke="#800080" stroke-width="1.6" fill="none"/><path d="M808.9,56.2V58.2M806.2,56.2h5.4M806.2,58.2h5.4" stroke="#800080" stroke-width="1.6" fill="none"/><path d="M812.2,56.5V58.5M809.5,56.5h5.4M809.5,58.5h5.4" stroke="#800080" stroke-width="1.6" fill="none"/><path d="M815.6,56.6V58.6M812.9,56.6h5.4M812.9,58.6h5.4" stroke="#800080" stroke-width="1.6" fill="none"/></g>
<rect x="618.4" y="19.6" width="200.0" height="76.8" fill="none" stroke="#000" stroke-width="1.35"/>
<path d="M618.40,96.4v-3.6M618.40,19.6v3.6M625.07,96.4v-2.0M625.07,19.6v2.0M631.73,96.4v-2.0M631.73,19.6v2.0M638.40,96.4v-2.0M638.40,19.6v2.0M645.07,96.4v-2.0M645.07,19.6v2.0M651.73,96.4v-3.6M651.73,19.6v3.6M658.40,96.4v-2.0M658.40,19.6v2.0M665.07,96.4v-2.0M665.07,19.6v2.0M671.73,96.4v-2.0M671.73,19.6v2.0M678.40,96.4v-2.0M678.40,19.6v2.0M685.07,96.4v-3.6M685.07,19.6v3.6M691.73,96.4v-2.0M691.73,19.6v2.0M698.40,96.4v-2.0M698.40,19.6v2.0M705.07,96.4v-2.0M705.07,19.6v2.0M711.73,96.4v-2.0M711.73,19.6v2.0M718.40,96.4v-3.6M718.40,19.6v3.6M725.07,96.4v-2.0M725.07,19.6v2.0M731.73,96.4v-2.0M731.73,19.6v2.0M738.40,96.4v-2.0M738.40,19.6v2.0M745.07,96.4v-2.0M745.07,19.6v2.0M751.73,96.4v-3.6M751.73,19.6v3.6M758.40,96.4v-2.0M758.40,19.6v2.0M765.07,96.4v-2.0M765.07,19.6v2.0M771.73,96.4v-2.0M771.73,19.6v2.0M778.40,96.4v-2.0M778.40,19.6v2.0M785.07,96.4v-3.6M785.07,19.6v3.6M791.73,96.4v-2.0M791.73,19.6v2.0M798.40,96.4v-2.0M798.40,19.6v2.0M805.07,96.4v-2.0M805.07,19.6v2.0M811.73,96.4v-2.0M811.73,19.6v2.0M818.40,96.4v-3.6M818.40,19.6v3.6M618.4,19.60h3.6M818.4,19.60h-3.6M618.4,22.80h2.0M818.4,22.80h-2.0M618.4,26.00h2.0M818.4,26.00h-2.0M618.4,29.20h2.0M818.4,29.20h-2.0M618.4,32.40h2.0M818.4,32.40h-2.0M618.4,35.60h2.0M818.4,35.60h-2.0M618.4,38.80h2.0M818.4,38.80h-2.0M618.4,42.00h2.0M818.4,42.00h-2.0M618.4,45.20h2.0M818.4,45.20h-2.0M618.4,48.40h2.0M818.4,48.40h-2.0M618.4,51.60h2.0M818.4,51.60h-2.0M618.4,54.80h2.0M818.4,54.80h-2.0M618.4,58.00h3.6M818.4,58.00h-3.6M618.4,61.20h2.0M818.4,61.20h-2.0M618.4,64.40h2.0M818.4,64.40h-2.0M618.4,67.60h2.0M818.4,67.60h-2.0M618.4,70.80h2.0M818.4,70.80h-2.0M618.4,74.00h2.0M818.4,74.00h-2.0M618.4,77.20h2.0M818.4,77.20h-2.0M618.4,80.40h2.0M818.4,80.40h-2.0M618.4,83.60h2.0M818.4,83.60h-2.0M618.4,86.80h2.0M818.4,86.80h-2.0M618.4,90.00h2.0M818.4,90.00h-2.0M618.4,93.20h2.0M818.4,93.20h-2.0M618.4,96.40h3.6M818.4,96.40h-3.6" stroke="#000" stroke-width="0.9" fill="none"/>
<text x="607.9" y="115.6" font-size="14.6" textLength="20.2" lengthAdjust="spacingAndGlyphs" text-anchor="start" >-30</text>
<text x="641.2" y="115.6" font-size="14.6" textLength="20.2" lengthAdjust="spacingAndGlyphs" text-anchor="start" >-20</text>
<text x="674.6" y="115.6" font-size="14.6" textLength="20.2" lengthAdjust="spacingAndGlyphs" text-anchor="start" >-10</text>
<text x="716.2" y="115.6" font-size="14.6" textLength="7.3" lengthAdjust="spacingAndGlyphs" text-anchor="start" >0</text>
<text x="746.8" y="115.6" font-size="14.6" textLength="14.6" lengthAdjust="spacingAndGlyphs" text-anchor="start" >10</text>
<text x="780.2" y="115.6" font-size="14.6" textLength="14.6" lengthAdjust="spacingAndGlyphs" text-anchor="start" >20</text>
<text x="813.5" y="115.6" font-size="14.6" textLength="14.6" lengthAdjust="spacingAndGlyphs" text-anchor="start" >30</text>
<text x="593.9" y="21.8" font-size="14.6" textLength="19.6" lengthAdjust="spacingAndGlyphs" text-anchor="start" >0.3</text>
<text x="593.9" y="63.3" font-size="14.6" textLength="19.6" lengthAdjust="spacingAndGlyphs" text-anchor="start" >0.0</text>
<line x1="583.6" y1="96.4" x2="591.7" y2="96.4" stroke="#000" stroke-width="1.0"/>
<text x="594.2" y="101.5" font-size="14.6" textLength="19.6" lengthAdjust="spacingAndGlyphs" text-anchor="start" >0.3</text>
<text x="561.8" y="13.2" font-size="16.4" textLength="17.6" lengthAdjust="spacingAndGlyphs" text-anchor="start" >(c)</text>
<text x="695.4" y="11.2" font-size="15.2" font-style="italic" textLength="9.4" lengthAdjust="spacingAndGlyphs" text-anchor="start" >E</text>
<text x="710.9" y="11.2" font-size="15.2" textLength="11.2" lengthAdjust="spacingAndGlyphs" text-anchor="start" >=</text>
<text x="729.0" y="11.2" font-size="15.2" font-style="italic" textLength="9.4" lengthAdjust="spacingAndGlyphs" text-anchor="start" >E</text>
<text x="739.0" y="14.3" font-size="10.4" textLength="12.6" lengthAdjust="spacingAndGlyphs" text-anchor="start" >8D</text>
<text x="688.2" y="135.3" font-size="15.4" font-style="italic" textLength="5.5" lengthAdjust="spacingAndGlyphs" text-anchor="start" >f</text>
<text x="694.2" y="138.2" font-size="10.2" textLength="6.6" lengthAdjust="spacingAndGlyphs" text-anchor="start" >E</text>
<text x="707.2" y="135.3" font-size="15.4" textLength="41.6" lengthAdjust="spacingAndGlyphs" text-anchor="start" >(GHz)</text>
<g transform="translate(575.6,83.5) rotate(-90)">
<text x="0.0" y="0.0" font-size="15.4" textLength="9.7" lengthAdjust="spacingAndGlyphs" text-anchor="start" >Δ</text>
<text x="10.5" y="0.0" font-size="15.4" font-style="italic" textLength="6.8" lengthAdjust="spacingAndGlyphs" text-anchor="start" >I</text>
<text x="22.2" y="0.0" font-size="15.4" textLength="42.4" lengthAdjust="spacingAndGlyphs" text-anchor="start" >(kcps)</text>
</g>
<path d="M62.5,231.5L64.0,236.6L65.8,242.6L67.9,249.8L71.0,257.2L73.9,263.7L77.0,269.2L79.8,273.6L82.8,277.0L85.7,279.5L87.8,280.7L89.7,281.1L92.5,280.4L95.6,278.5L98.6,274.8L101.6,269.6L104.2,263.2L106.5,255.7L108.5,248.2L110.5,239.9L112.5,227.5L114.5,209.5L116.5,195.0L118.4,183.3L119.6,179.6L120.6,179.0L121.8,182.5L122.9,189.7L124.8,201.0L126.8,214.5L129.3,231.0L131.8,246.6L134.2,260.0L136.7,271.4L139.2,282.5L141.2,289.0L142.8,292.2L144.3,293.4L145.9,292.6L148.1,289.4L150.2,283.0L152.1,275.5L154.1,268.6L156.2,263.2L158.0,260.8L159.3,260.2L160.7,261.5L162.8,266.5L165.0,272.9L167.5,278.5L170.9,283.9L173.0,285.4L174.9,285.8L177.0,285.3L178.8,284.2L181.0,281.8L182.8,279.3L184.8,275.2L186.7,270.4L188.7,251.6L191.2,242.6L193.7,234.3L196.2,227.3L198.6,221.9L200.6,219.4L202.6,218.4L205.0,220.0L207.5,223.4L210.5,228.5L213.5,234.3L216.0,240.6L218.4,246.6L220.0,252.5L222.5,258.0L224.9,262.5L227.0,265.5L228.6,266.6L230.5,266.2L232.3,264.6L234.8,260.2L237.3,254.7L239.2,249.8L241.0,244.8L242.8,239.6L244.2,236.8L245.4,237.2L246.7,241.0L248.2,246.0L249.7,252.2L251.5,260.0L253.4,268.3L255.2,275.5L257.1,281.9L259.0,286.8L260.8,290.5L262.6,293.4L264.5,295.5L266.0,296.2L267.5,296.2L269.0,295.1L270.7,293.0L272.3,290.0L273.9,286.8L275.2,284.6L276.4,283.1L277.7,282.1L278.9,281.9L280.3,282.3L281.8,283.1L283.3,283.8L284.8,283.9L286.4,283.0L288.0,281.4L289.8,278.8L291.7,275.7L294.2,270.5L296.7,265.3L299.2,260.6L301.5,257.4L303.5,256.0L305.3,255.9L307.8,257.6L311.5,263.3L315.2,269.5L319.0,274.0L321.0,275.3L322.7,275.7L324.5,275.3L326.4,274.5L328.0,273.3L329.4,272.7L330.6,273.2L331.8,274.5L333.4,277.8L335.0,281.9L336.9,286.8L338.8,291.8L340.6,295.8L342.5,299.2L344.3,302.0L346.2,304.2L348.0,305.6L349.9,306.1L351.8,305.6L353.6,304.7L355.2,303.7L356.6,302.9L357.7,302.5L358.6,302.4L359.8,302.8L361.0,303.7L362.9,305.0L364.8,306.1L366.6,306.6L368.5,306.6L370.5,306.2L372.4,305.6L372.4,354.2L62.5,354.2Z" fill="#b0b0b0"/>
<clipPath id="cd"><rect x="62.5" y="163.0" width="310.0" height="191.2"/></clipPath>
<line x1="127.2" y1="163.0" x2="127.2" y2="354.2" stroke="#008000" stroke-width="3.6" stroke-dasharray="13 12.3"/>
<line x1="161.6" y1="163.0" x2="161.6" y2="354.2" stroke="#008000" stroke-width="3.6" stroke-dasharray="13 12.3"/>
<line x1="197.9" y1="163.0" x2="197.9" y2="354.2" stroke="#008000" stroke-width="3.6" stroke-dasharray="13 12.3"/>
<path d="M62.5,347.3L63.1,347.3L63.7,347.2L64.3,347.2L64.9,347.1L65.5,347.0L66.1,347.0L66.7,346.9L67.3,346.9L67.9,346.8L68.5,346.8L69.1,346.7L69.7,346.6L70.3,346.6L70.9,346.5L71.5,346.4L72.1,346.4L72.7,346.3L73.3,346.2L73.9,346.2L74.5,346.1L75.1,346.0L75.7,346.0L76.3,345.9L76.9,345.8L77.5,345.7L78.1,345.6L78.7,345.5L79.3,345.4L79.9,345.3L80.5,345.2L81.1,345.0L81.7,344.8L82.3,344.7L82.9,344.5L83.5,344.3L84.1,344.0L84.7,343.8L85.3,343.5L85.9,343.2L86.5,342.9L87.1,342.6L87.7,342.2L88.3,341.7L88.9,341.3L89.5,340.7L90.1,340.2L90.7,339.7L91.3,339.2L91.9,338.7L92.5,338.1L93.1,337.6L93.7,337.0L94.3,336.5L94.9,335.9L95.5,335.2L96.1,334.6L96.7,333.9L97.3,333.1L97.9,332.3L98.5,331.5L99.1,330.6L99.7,329.6L100.3,328.6L100.9,327.5L101.5,326.3L102.1,325.0L102.7,323.6L103.3,322.0L103.9,320.2L104.5,318.3L105.1,316.1L105.7,313.9L106.3,311.6L106.9,309.3L107.5,306.9L108.1,304.3L108.7,301.6L109.3,298.8L109.9,295.9L110.5,292.9L111.1,289.8L111.7,286.5L112.3,283.1L112.9,279.6L113.5,275.8L114.1,271.7L114.7,267.7L115.3,264.1L115.9,260.7L116.5,257.6L117.1,255.1L117.7,253.5L118.3,252.1L118.9,251.0L119.5,250.4L119.7,250.4L120.1,250.5L120.7,251.0L121.3,251.8L121.9,252.8L122.5,253.9L123.1,255.8L123.7,258.4L124.3,261.3L124.9,264.2L125.5,267.2L126.1,270.4L126.7,273.8L127.3,277.3L127.9,280.8L128.5,284.4L129.1,288.1L129.7,291.9L130.3,295.6L130.9,299.4L131.5,303.2L132.1,306.9L132.7,310.5L133.3,314.2L133.9,317.8L134.5,321.1L135.1,324.1L135.7,326.7L136.3,329.0L136.9,331.1L137.5,333.0L138.1,334.8L138.7,336.5L139.3,337.9L139.9,339.0L140.5,339.8L141.1,340.5L141.7,341.1L142.3,341.7L142.9,342.2L143.5,342.6L144.1,343.1L144.7,343.4L145.3,343.8L145.9,344.1L146.5,344.5L147.1,344.8L147.7,345.1L148.3,345.4L148.9,345.7L149.5,345.9L150.1,346.2L150.7,346.4L151.3,346.6L151.9,346.8L152.5,347.0L153.1,347.2L153.7,347.3L154.3,347.5L154.9,347.6L155.5,347.7L156.1,347.9L156.7,348.0L157.3,348.1L157.9,348.2L158.5,348.4L159.1,348.5L159.7,348.6L160.3,348.7L160.9,348.8L161.5,348.9L162.1,349.0L162.7,349.0L163.3,349.1L163.9,349.2L164.5,349.2L165.1,349.2L165.7,349.3L166.3,349.3L166.9,349.3L167.5,349.3L168.1,349.3L168.7,349.3L169.3,349.3L169.9,349.3L170.5,349.3L171.1,349.3L171.7,349.3L172.3,349.3L172.9,349.3L173.5,349.3L174.1,349.3L174.7,349.3L175.3,349.3L175.9,349.3L176.5,349.3L177.1,349.3L177.7,349.3L178.3,349.3L178.9,349.3L179.5,349.3L180.1,349.3L180.7,349.3L181.3,349.3L181.9,349.3L182.5,349.3L183.1,349.3L183.7,349.3L184.3,349.3L184.9,349.3L185.5,349.3L186.1,349.3L186.7,349.3L187.3,349.3L187.9,349.3L188.5,349.3L189.1,349.3L189.7,349.3L190.3,349.3L190.9,349.2L191.5,349.2L192.1,349.2L192.7,349.1L193.3,349.1L193.9,349.0L194.5,348.9L195.1,348.9L195.7,348.8L196.0,348.7L196.3,348.7L196.9,348.6L197.5,348.5L198.1,348.5L198.7,348.4L199.3,348.3L199.9,348.2L200.5,348.1L201.1,348.0L201.7,347.9L202.3,347.8L202.9,347.7L203.5,347.5L204.1,347.4L204.7,347.3L205.3,347.1L205.9,347.0L206.5,346.8L207.1,346.7L207.7,346.5L208.3,346.4L208.9,346.2L209.5,346.1L210.1,345.9L210.7,345.8L211.3,345.6L211.9,345.5L212.5,345.3L213.1,345.2L213.7,345.0L214.3,344.9L214.9,344.7L215.5,344.5L216.1,344.3L216.7,344.0L217.3,343.7L217.9,343.5L218.5,343.1L219.1,342.6L219.7,342.1L220.3,341.4L220.9,340.7L221.5,339.8L222.1,339.0L222.7,338.0L223.3,337.0L223.9,336.0L224.5,334.9L225.1,333.6L225.7,332.1L226.3,330.5L226.9,328.8L227.5,327.0L228.1,325.1L228.7,323.1L229.3,320.9L229.9,318.5L230.5,316.0L231.1,313.2L231.7,310.3L232.3,307.1L232.9,303.5L233.5,299.6L234.1,295.7L234.7,292.0L235.3,288.3L235.9,284.7L236.5,280.9L237.1,276.8L237.7,272.4L238.3,268.0L238.9,264.1L239.5,260.2L240.1,256.5L240.7,253.5L241.3,251.7L241.9,250.1L242.5,248.8L243.1,247.9L243.7,247.5L243.8,247.5L244.3,247.7L244.9,248.6L245.5,249.9L246.1,251.6L246.7,253.7L247.3,257.2L247.9,261.7L248.5,266.3L249.1,271.5L249.7,277.0L250.3,282.1L250.9,287.2L251.5,292.1L252.1,296.7L252.7,301.1L253.3,305.4L253.9,309.3L254.5,313.0L255.1,316.5L255.7,319.8L256.3,322.8L256.9,325.4L257.5,327.8L258.1,330.1L258.7,332.2L259.3,334.1L259.9,335.6L260.5,336.8L261.1,337.9L261.7,338.9L262.3,339.9L262.9,340.8L263.5,341.5L264.1,342.2L264.7,342.8L265.3,343.3L265.9,343.7L266.5,344.0L267.1,344.3L267.7,344.6L268.3,344.9L268.9,345.1L269.5,345.3L270.1,345.6L270.7,345.8L271.3,345.9L271.9,346.1L272.5,346.3L273.1,346.5L273.7,346.7L274.3,346.9L274.9,347.1L275.5,347.3L276.1,347.5L276.7,347.7L277.3,347.9L277.9,348.1L278.5,348.2L279.1,348.4L279.7,348.6L280.3,348.7L280.9,348.8L281.5,349.0L282.1,349.1L282.7,349.1L283.3,349.2L283.9,349.3L284.5,349.3L285.1,349.3L285.7,349.4L286.3,349.4L286.9,349.4L287.5,349.5L288.1,349.5L288.7,349.5L289.3,349.5L289.9,349.5L290.5,349.6L291.1,349.6L291.7,349.6L292.3,349.6L292.9,349.6L293.5,349.6L294.1,349.7L294.7,349.7L295.3,349.7L295.9,349.7L296.5,349.7L297.1,349.7L297.7,349.7L298.3,349.7L298.9,349.7L299.5,349.7L300.1,349.7L300.7,349.6L301.3,349.6L301.9,349.5L302.5,349.5L303.1,349.4L303.7,349.4L304.3,349.3L304.7,349.2L304.9,349.2L305.5,349.1L306.1,349.0L306.7,348.9L307.3,348.8L307.9,348.7L308.5,348.6L309.1,348.5L309.7,348.4L310.3,348.2L310.9,348.0L311.5,347.7L312.1,347.4L312.7,347.0L313.3,346.6L313.9,346.0L314.5,345.5L315.1,344.9L315.7,344.2L316.3,343.5L316.9,342.8L317.5,342.1L318.1,341.3L318.7,340.3L319.3,339.1L319.9,337.7L320.5,336.2L321.1,334.5L321.7,332.8L322.3,331.1L322.9,329.5L323.5,327.8L324.1,325.9L324.7,324.0L325.3,322.1L325.9,320.3L326.5,318.6L327.1,317.1L327.7,315.7L328.3,314.3L328.9,313.3L329.5,312.6L330.1,312.2L330.7,311.8L331.3,311.7L331.9,311.9L332.5,312.2L333.1,312.7L333.7,313.3L334.3,314.0L334.9,314.9L335.5,316.0L336.1,317.4L336.7,318.9L337.3,320.6L337.9,322.4L338.5,324.1L339.1,325.8L339.7,327.3L340.3,328.6L340.9,330.0L341.5,331.4L342.1,332.8L342.7,334.1L343.3,335.4L343.9,336.5L344.5,337.6L345.1,338.6L345.7,339.4L346.3,340.1L346.9,340.8L347.5,341.5L348.1,342.2L348.7,342.8L349.3,343.4L349.9,343.9L350.5,344.4L351.1,344.9L351.7,345.3L352.3,345.6L352.9,346.0L353.5,346.3L354.1,346.5L354.7,346.7L355.3,347.0L355.9,347.2L356.5,347.4L357.1,347.6L357.7,347.8L358.3,347.9L358.9,348.1L359.5,348.3L360.1,348.4L360.7,348.5L361.3,348.6L361.9,348.7L362.5,348.8L363.1,348.9L363.7,348.9L364.3,349.0L364.9,349.0L365.5,349.0L366.1,349.1L366.7,349.1L367.3,349.1L367.9,349.2L368.5,349.2L369.1,349.2L369.7,349.3L370.3,349.3L370.9,349.3L371.5,349.3L372.1,349.3" fill="none" stroke="#0000ff" stroke-width="2.6" stroke-linejoin="miter" stroke-miterlimit="6" clip-path="url(#cd)"/>
<path d="M59.8,339.4h6.4v3.9h-6.4zM64.7,341.7h6.4v3.9h-6.4zM71.7,341.2h6.4v3.9h-6.4zM78.6,341.4h6.4v3.9h-6.4zM86.5,337.4h6.4v3.9h-6.4zM93.4,331.9h6.4v3.9h-6.4zM100.8,322.1h6.4v3.9h-6.4zM107.9,288.9h6.4v3.9h-6.4zM115.7,251.5h6.4v3.9h-6.4zM129.2,272.9h6.4v3.9h-6.4zM133.0,300.9h6.4v3.9h-6.4zM137.0,326.2h6.4v3.9h-6.4zM141.0,334.4h6.4v3.9h-6.4zM150.9,341.9h6.4v3.9h-6.4zM157.8,344.1h6.4v3.9h-6.4zM164.7,345.4h6.4v3.9h-6.4zM174.0,335.1h6.4v3.9h-6.4zM180.6,338.4h6.4v3.9h-6.4zM187.1,331.6h6.4v3.9h-6.4zM194.4,315.1h6.4v3.9h-6.4zM202.3,300.4h6.4v3.9h-6.4zM209.7,296.9h6.4v3.9h-6.4zM215.2,303.4h6.4v3.9h-6.4zM220.7,312.2h6.4v3.9h-6.4zM230.0,297.2h6.4v3.9h-6.4zM237.1,290.9h6.4v3.9h-6.4zM241.9,283.1h6.4v3.9h-6.4zM252.4,314.7h6.4v3.9h-6.4zM284.5,338.1h6.4v3.9h-6.4zM294.4,322.7h6.4v3.9h-6.4zM302.3,303.8h6.4v3.9h-6.4zM309.8,296.9h6.4v3.9h-6.4zM316.8,297.9h6.4v3.9h-6.4zM324.1,298.4h6.4v3.9h-6.4zM330.6,312.8h6.4v3.9h-6.4zM338.5,326.6h6.4v3.9h-6.4zM346.5,338.4h6.4v3.9h-6.4zM353.4,331.6h6.4v3.9h-6.4zM360.7,336.4h6.4v3.9h-6.4z" fill="#0000ff" stroke="#0000ff" stroke-width="0.8" clip-path="url(#cd)"/>
<path d="M62.5,327.5L63.1,328.8L63.7,329.9L64.3,331.1L64.9,332.1L65.5,333.1L66.1,333.9L66.7,334.7L67.3,335.5L67.9,336.2L68.5,336.8L69.1,337.4L69.7,338.0L70.3,338.4L70.9,338.9L71.5,339.3L72.1,339.7L72.7,340.1L73.3,340.4L73.9,340.7L74.5,341.0L75.1,341.2L75.7,341.4L76.3,341.6L76.9,341.8L77.5,341.9L78.1,342.1L78.7,342.2L79.3,342.3L79.9,342.4L80.5,342.5L81.1,342.6L81.7,342.8L82.3,342.9L82.9,343.0L83.5,343.1L84.1,343.1L84.7,343.2L85.3,343.3L85.9,343.4L86.5,343.5L87.1,343.6L87.7,343.7L88.3,343.8L88.9,343.8L89.5,343.9L90.1,344.0L90.7,344.1L91.3,344.2L91.9,344.3L92.5,344.3L93.1,344.4L93.7,344.5L94.3,344.6L94.9,344.7L95.5,344.7L96.1,344.8L96.7,344.9L97.3,345.0L97.9,345.1L98.5,345.1L99.1,345.2L99.7,345.3L100.3,345.4L100.9,345.5L101.5,345.6L102.1,345.7L102.7,345.8L103.3,345.9L103.9,345.9L104.5,346.0L105.1,346.1L105.7,346.2L106.3,346.3L106.9,346.4L107.5,346.5L108.1,346.6L108.7,346.7L109.3,346.8L109.9,346.9L110.5,347.0L111.1,347.1L111.7,347.2L112.3,347.3L112.9,347.3L113.5,347.4L114.1,347.5L114.7,347.6L115.3,347.7L115.9,347.8L116.5,347.9L117.1,348.0L117.7,348.1L118.3,348.2L118.9,348.2L119.5,348.3L119.7,348.3L120.1,348.4L120.7,348.5L121.3,348.5L121.9,348.6L122.5,348.7L123.1,348.8L123.7,348.9L124.3,348.9L124.9,349.0L125.5,349.1L126.1,349.1L126.7,349.2L127.3,349.3L127.9,349.3L128.5,349.4L129.1,349.4L129.7,349.5L130.3,349.5L130.9,349.6L131.5,349.6L132.1,349.6L132.7,349.7L133.3,349.7L133.9,349.8L134.5,349.8L135.1,349.9L135.7,349.9L136.3,349.9L136.9,350.0L137.5,350.0L138.1,350.0L138.7,350.1L139.3,350.1L139.9,350.1L140.5,350.1L141.1,350.1L141.7,350.2L142.3,350.2L142.9,350.2L143.5,350.2L144.1,350.2L144.7,350.2L145.3,350.2L145.9,350.2L146.5,350.2L147.1,350.2L147.7,350.1L148.3,350.1L148.9,350.1L149.5,350.0L150.1,350.0L150.7,350.0L151.3,349.9L151.9,349.9L152.5,349.8L153.1,349.8L153.7,349.7L154.3,349.7L154.9,349.6L155.5,349.5L156.1,349.5L156.7,349.4L157.3,349.3L157.9,349.1L158.5,349.0L159.1,348.8L159.7,348.7L160.3,348.5L160.9,348.2L161.5,348.0L162.1,347.8L162.7,347.5L163.3,347.2L163.9,346.9L164.5,346.6L165.1,346.3L165.7,346.0L166.3,345.7L166.9,345.3L167.5,344.8L168.1,344.4L168.7,343.8L169.3,343.2L169.9,342.6L170.5,341.9L171.1,341.2L171.7,340.5L172.3,339.7L172.9,338.8L173.5,337.9L174.1,336.7L174.7,335.4L175.3,334.0L175.9,332.7L176.5,331.4L177.1,330.3L177.7,329.3L178.3,328.3L178.9,327.1L179.5,325.5L180.1,323.6L180.7,321.5L181.3,319.4L181.9,317.2L182.5,315.0L183.1,312.6L183.7,310.1L184.3,307.4L184.9,304.6L185.5,301.4L186.1,298.0L186.7,294.6L187.3,291.2L187.9,287.8L188.5,284.3L189.1,280.8L189.7,277.2L190.3,273.5L190.9,269.7L191.5,265.8L192.1,261.8L192.7,257.7L193.3,253.8L193.9,250.0L194.5,246.4L195.1,243.0L195.7,239.6L196.0,238.0L196.3,239.6L196.9,243.0L197.5,246.4L198.1,250.0L198.7,253.8L199.3,257.7L199.9,261.8L200.5,265.8L201.1,269.7L201.7,273.5L202.3,277.2L202.9,280.8L203.5,284.3L204.1,287.8L204.7,291.2L205.3,294.6L205.9,298.0L206.5,301.4L207.1,304.6L207.7,307.4L208.3,310.1L208.9,312.7L209.5,315.2L210.1,317.4L210.7,319.5L211.3,321.3L211.9,323.0L212.5,324.6L213.1,326.2L213.7,327.6L214.3,328.9L214.9,330.2L215.5,331.4L216.1,332.5L216.7,333.6L217.3,334.4L217.9,335.2L218.5,336.0L219.1,336.7L219.7,337.4L220.3,338.0L220.9,338.7L221.5,339.2L222.1,339.8L222.7,340.3L223.3,340.7L223.9,341.2L224.5,341.6L225.1,341.9L225.7,342.3L226.3,342.6L226.9,342.9L227.5,343.2L228.1,343.5L228.7,343.8L229.3,344.1L229.9,344.3L230.5,344.6L231.1,344.8L231.7,345.0L232.3,345.2L232.9,345.4L233.5,345.6L234.1,345.8L234.7,346.0L235.3,346.2L235.9,346.4L236.5,346.6L237.1,346.7L237.7,346.9L238.3,347.0L238.9,347.2L239.5,347.3L240.1,347.4L240.7,347.6L241.3,347.7L241.9,347.8L242.5,347.8L243.1,347.9L243.7,348.0L243.8,348.0L244.3,348.1L244.9,348.2L245.5,348.3L246.1,348.3L246.7,348.4L247.3,348.5L247.9,348.5L248.5,348.6L249.1,348.7L249.7,348.7L250.3,348.8L250.9,348.8L251.5,348.9L252.1,348.9L252.7,348.9L253.3,349.0L253.9,349.0L254.5,349.0L255.1,349.0L255.7,349.0L256.3,349.0L256.9,349.0L257.5,349.0L258.1,349.0L258.7,349.0L259.3,349.0L259.9,349.0L260.5,349.0L261.1,349.0L261.7,349.0L262.3,349.0L262.9,349.0L263.5,349.0L264.1,349.0L264.7,349.0L265.3,349.0L265.9,349.0L266.5,349.0L267.1,349.0L267.7,349.0L268.3,349.0L268.9,349.0L269.5,348.9L270.1,348.9L270.7,348.8L271.3,348.7L271.9,348.5L272.5,348.4L273.1,348.3L273.7,348.1L274.3,347.9L274.9,347.8L275.5,347.6L276.1,347.4L276.7,347.2L277.3,347.0L277.9,346.7L278.5,346.4L279.1,346.0L279.7,345.6L280.3,345.2L280.9,344.7L281.5,344.2L282.1,343.6L282.7,343.0L283.3,342.4L283.9,341.7L284.5,340.8L285.1,339.9L285.7,338.8L286.3,337.5L286.9,336.2L287.5,334.7L288.1,333.1L288.7,331.2L289.3,328.7L289.9,325.7L290.5,322.5L291.1,319.3L291.7,316.1L292.3,313.2L292.9,310.4L293.5,307.6L294.1,304.6L294.7,301.2L295.3,297.3L295.9,292.5L296.5,287.0L297.1,281.2L297.7,275.2L298.3,269.2L298.9,262.8L299.5,256.3L300.1,249.7L300.7,243.1L301.3,236.4L301.9,229.7L302.5,223.2L303.1,216.9L303.7,210.7L304.3,204.6L304.7,200.6L304.9,202.6L305.5,208.6L306.1,214.8L306.7,221.1L307.3,227.5L307.9,234.2L308.5,240.9L309.1,247.5L309.7,254.1L310.3,260.7L310.9,267.1L311.5,273.2L312.1,279.2L312.7,285.1L313.3,290.7L313.9,295.8L314.5,300.0L315.1,303.6L315.7,306.9L316.3,309.9L316.9,312.7L317.5,315.2L318.1,317.6L318.7,319.8L319.3,322.0L319.9,324.0L320.5,325.9L321.1,327.5L321.7,329.0L322.3,330.4L322.9,331.7L323.5,332.9L324.1,334.1L324.7,335.2L325.3,336.2L325.9,337.1L326.5,337.9L327.1,338.6L327.7,339.2L328.3,339.7L328.9,340.2L329.5,340.6L330.1,341.0L330.7,341.4L331.3,341.8L331.9,342.1L332.5,342.4L333.1,342.8L333.7,343.0L334.3,343.3L334.9,343.5L335.5,343.7L336.1,343.9L336.7,344.1L337.3,344.3L337.9,344.4L338.5,344.5L339.1,344.7L339.7,344.8L340.3,344.9L340.9,345.0L341.5,345.1L342.1,345.2L342.7,345.3L343.3,345.4L343.9,345.5L344.5,345.5L345.1,345.6L345.7,345.7L346.3,345.8L346.9,345.8L347.5,345.9L348.1,346.0L348.7,346.0L349.3,346.1L349.9,346.1L350.5,346.2L351.1,346.3L351.7,346.3L352.3,346.4L352.9,346.4L353.5,346.5L354.1,346.6L354.7,346.6L355.3,346.7L355.9,346.7L356.5,346.8L357.1,346.9L357.7,346.9L358.3,347.0L358.9,347.1L359.5,347.1L360.1,347.2L360.7,347.2L361.3,347.2L361.9,347.3L362.5,347.3L363.1,347.3L363.7,347.3L364.3,347.3L364.9,347.2L365.5,347.0L366.1,346.8L366.7,346.6L367.3,346.4L367.9,346.1L368.5,345.8L369.1,345.5L369.7,345.2L370.3,344.8L370.9,344.2L371.5,343.6L372.1,343.0" fill="none" stroke="#ff0000" stroke-width="2.6" stroke-linejoin="miter" stroke-miterlimit="6" clip-path="url(#cd)"/>
<path d="M59.8,329.2h6.4v3.9h-6.4zM64.7,342.4h6.4v3.9h-6.4zM71.7,342.4h6.4v3.9h-6.4zM78.6,343.4h6.4v3.9h-6.4zM86.5,342.6h6.4v3.9h-6.4zM93.4,341.1h6.4v3.9h-6.4zM100.4,340.4h6.4v3.9h-6.4zM107.9,339.1h6.4v3.9h-6.4zM115.2,337.4h6.4v3.9h-6.4zM122.7,331.6h6.4v3.9h-6.4zM129.1,334.4h6.4v3.9h-6.4zM133.0,337.1h6.4v3.9h-6.4zM137.0,343.4h6.4v3.9h-6.4zM142.9,337.4h6.4v3.9h-6.4zM150.9,334.4h6.4v3.9h-6.4zM157.8,338.4h6.4v3.9h-6.4zM166.7,334.1h6.4v3.9h-6.4zM172.6,329.2h6.4v3.9h-6.4zM180.0,309.4h6.4v3.9h-6.4zM187.2,257.9h6.4v3.9h-6.4zM202.3,279.8h6.4v3.9h-6.4zM209.7,315.7h6.4v3.9h-6.4zM215.2,324.6h6.4v3.9h-6.4zM220.7,325.2h6.4v3.9h-6.4zM230.0,323.9h6.4v3.9h-6.4zM237.1,324.6h6.4v3.9h-6.4zM241.9,328.6h6.4v3.9h-6.4zM252.4,333.1h6.4v3.9h-6.4zM258.3,335.4h6.4v3.9h-6.4zM275.2,336.9h6.4v3.9h-6.4zM283.1,331.6h6.4v3.9h-6.4zM294.4,283.9h6.4v3.9h-6.4zM302.0,244.4h6.4v3.9h-6.4zM309.8,285.6h6.4v3.9h-6.4zM316.8,302.9h6.4v3.9h-6.4zM324.1,316.7h6.4v3.9h-6.4zM330.6,322.7h6.4v3.9h-6.4zM338.5,327.2h6.4v3.9h-6.4zM346.5,332.6h6.4v3.9h-6.4zM353.4,335.4h6.4v3.9h-6.4zM360.7,334.4h6.4v3.9h-6.4z" fill="#ff0000" stroke="#ff0000" stroke-width="0.8" clip-path="url(#cd)"/>
<path d="M126.4,194.5v4.8M122.6,194.5h7.6M122.6,199.3h7.6" stroke="#0000ff" stroke-width="2.1" fill="none"/>
<path d="M197.8,226.0v6.4M194.0,226.0h7.6M194.0,232.4h7.6" stroke="#ff0000" stroke-width="2.1" fill="none"/>
<rect x="62.5" y="163.0" width="310.0" height="191.2" fill="none" stroke="#000" stroke-width="1.3"/>
<path d="M69.90,354.2v-3.2M69.90,163.0v3.2M88.80,354.2v-3.2M88.80,163.0v3.2M107.70,354.2v-3.2M107.70,163.0v3.2M126.60,354.2v-3.2M126.60,163.0v3.2M145.50,354.2v-3.2M145.50,163.0v3.2M164.40,354.2v-3.2M164.40,163.0v3.2M183.30,354.2v-3.2M183.30,163.0v3.2M202.20,354.2v-3.2M202.20,163.0v3.2M221.10,354.2v-3.2M221.10,163.0v3.2M240.00,354.2v-3.2M240.00,163.0v3.2M258.90,354.2v-3.2M258.90,163.0v3.2M277.80,354.2v-3.2M277.80,163.0v3.2M296.70,354.2v-3.2M296.70,163.0v3.2M315.60,354.2v-3.2M315.60,163.0v3.2M334.50,354.2v-3.2M334.50,163.0v3.2M353.40,354.2v-3.2M353.40,163.0v3.2M62.5,351.00h4.3M372.5,351.00h-4.3M62.5,341.60h2.6M372.5,341.60h-2.6M62.5,332.20h2.6M372.5,332.20h-2.6M62.5,322.80h2.6M372.5,322.80h-2.6M62.5,313.40h2.6M372.5,313.40h-2.6M62.5,304.00h4.3M372.5,304.00h-4.3M62.5,294.60h2.6M372.5,294.60h-2.6M62.5,285.20h2.6M372.5,285.20h-2.6M62.5,275.80h2.6M372.5,275.80h-2.6M62.5,266.40h2.6M372.5,266.40h-2.6M62.5,257.00h4.3M372.5,257.00h-4.3M62.5,247.60h2.6M372.5,247.60h-2.6M62.5,238.20h2.6M372.5,238.20h-2.6M62.5,228.80h2.6M372.5,228.80h-2.6M62.5,219.40h2.6M372.5,219.40h-2.6M62.5,210.00h4.3M372.5,210.00h-4.3M62.5,200.60h2.6M372.5,200.60h-2.6M62.5,191.20h2.6M372.5,191.20h-2.6M62.5,181.80h2.6M372.5,181.80h-2.6M62.5,172.40h2.6M372.5,172.40h-2.6M62.5,163.00h4.3M372.5,163.00h-4.3" stroke="#000" stroke-width="0.9" fill="none"/>
<text x="83.2" y="185.5" font-size="15.5" textLength="17.0" lengthAdjust="spacingAndGlyphs" text-anchor="start" >8S</text>
<line x1="105.1" y1="180.6" x2="119.8" y2="180.6" stroke="#000" stroke-width="1.0"/>
<text x="140.5" y="247.2" font-size="15.5" textLength="16.2" lengthAdjust="spacingAndGlyphs" text-anchor="start" >8P</text>
<line x1="153.4" y1="248.5" x2="159.2" y2="259.4" stroke="#000" stroke-width="1.0"/>
<text x="206.5" y="210.0" font-size="15.5" textLength="18.8" lengthAdjust="spacingAndGlyphs" text-anchor="start" >8D</text>
<line x1="209.7" y1="211.5" x2="201.7" y2="221.2" stroke="#000" stroke-width="1.0"/>
<text x="258.4" y="234.3" font-size="15.5" textLength="16.6" lengthAdjust="spacingAndGlyphs" text-anchor="start" >9S</text>
<line x1="254.8" y1="231.0" x2="245.4" y2="236.7" stroke="#000" stroke-width="1.0"/>
<text x="270.0" y="249.7" font-size="15.5" textLength="18.8" lengthAdjust="spacingAndGlyphs" text-anchor="start" >9D</text>
<line x1="289.4" y1="247.8" x2="304.4" y2="256.4" stroke="#000" stroke-width="1.0"/>
<text x="319.5" y="242.8" font-size="15.5" textLength="23.8" lengthAdjust="spacingAndGlyphs" text-anchor="start" >10S</text>
<line x1="329.7" y1="248.0" x2="329.7" y2="272.3" stroke="#000" stroke-width="1.0"/>
<text x="345.6" y="288.3" font-size="15.5" textLength="25.6" lengthAdjust="spacingAndGlyphs" text-anchor="start" >10P</text>
<line x1="358.3" y1="292.0" x2="358.3" y2="302.0" stroke="#000" stroke-width="1.0"/>
<text x="267.8" y="314.6" font-size="15.5" textLength="17.8" lengthAdjust="spacingAndGlyphs" text-anchor="start" >9P</text>
<line x1="277.0" y1="283.0" x2="277.0" y2="300.6" stroke="#000" stroke-width="1.0"/>
<circle cx="256.2" cy="175.6" r="2.6" fill="#0000ff"/><circle cx="256.2" cy="191.7" r="2.6" fill="#ff0000"/>
<text x="268.1" y="180.9" font-size="15.6" textLength="93.4" lengthAdjust="spacingAndGlyphs" text-anchor="start" >blue sideband</text>
<text x="268.1" y="197.0" font-size="15.6" textLength="87.0" lengthAdjust="spacingAndGlyphs" text-anchor="start" >red sideband</text>
<text x="39.3" y="169.0" font-size="15.5" textLength="19.4" lengthAdjust="spacingAndGlyphs" text-anchor="start" >0.4</text>
<text x="39.3" y="215.6" font-size="15.5" textLength="19.4" lengthAdjust="spacingAndGlyphs" text-anchor="start" >0.3</text>
<text x="39.3" y="262.8" font-size="15.5" textLength="19.4" lengthAdjust="spacingAndGlyphs" text-anchor="start" >0.2</text>
<text x="39.3" y="309.6" font-size="15.5" textLength="19.4" lengthAdjust="spacingAndGlyphs" text-anchor="start" >0.1</text>
<text x="39.3" y="356.3" font-size="15.5" textLength="19.4" lengthAdjust="spacingAndGlyphs" text-anchor="start" >0.0</text>
<text x="47.9" y="376.4" font-size="15.6" textLength="44.8" lengthAdjust="spacingAndGlyphs" text-anchor="start" >2.1704</text>
<text x="122.1" y="376.4" font-size="15.6" textLength="44.8" lengthAdjust="spacingAndGlyphs" text-anchor="start" >2.1706</text>
<text x="196.6" y="376.4" font-size="15.6" textLength="44.8" lengthAdjust="spacingAndGlyphs" text-anchor="start" >2.1708</text>
<text x="270.9" y="376.4" font-size="15.6" textLength="44.8" lengthAdjust="spacingAndGlyphs" text-anchor="start" >2.1710</text>
<text x="345.1" y="376.4" font-size="15.6" textLength="44.8" lengthAdjust="spacingAndGlyphs" text-anchor="start" >2.1712</text>
<text x="7.5" y="156.2" font-size="17.6" textLength="21.0" lengthAdjust="spacingAndGlyphs" text-anchor="start" >(d)</text>
<text x="116.8" y="156.2" font-size="15.6" font-style="italic" textLength="9.6" lengthAdjust="spacingAndGlyphs" text-anchor="start" >E</text>
<text x="126.5" y="159.7" font-size="10.8" textLength="10.8" lengthAdjust="spacingAndGlyphs" text-anchor="start" >8S</text>
<text x="152.4" y="156.2" font-size="15.6" font-style="italic" textLength="9.6" lengthAdjust="spacingAndGlyphs" text-anchor="start" >E</text>
<text x="162.1" y="159.7" font-size="10.8" textLength="10.8" lengthAdjust="spacingAndGlyphs" text-anchor="start" >8P</text>
<text x="190.8" y="156.2" font-size="15.6" font-style="italic" textLength="9.6" lengthAdjust="spacingAndGlyphs" text-anchor="start" >E</text>
<text x="200.5" y="159.7" font-size="10.8" textLength="12.4" lengthAdjust="spacingAndGlyphs" text-anchor="start" >8D</text>
<text x="192.3" y="399.6" font-size="15.8" font-style="italic" textLength="9.8" lengthAdjust="spacingAndGlyphs" text-anchor="start" >E</text>
<text x="207.5" y="399.6" font-size="15.8" textLength="28.6" lengthAdjust="spacingAndGlyphs" text-anchor="start" >(eV)</text>
<g transform="translate(20.2,249.5) rotate(-90)">
<text x="-32.0" y="0.0" font-size="15.8" font-style="italic" textLength="6.0" lengthAdjust="spacingAndGlyphs" text-anchor="start" >I</text>
<text x="-26.0" y="3.6" font-size="10.6" textLength="12.4" lengthAdjust="spacingAndGlyphs" text-anchor="start" >SB</text>
<text x="-9.5" y="0.0" font-size="15.8" textLength="41.6" lengthAdjust="spacingAndGlyphs" text-anchor="start" >(kcps)</text>
</g>
<clipPath id="ce"><rect x="492.5" y="164.8" width="309.29999999999995" height="190.2"/></clipPath>
<path d="M492.5,232.7L494.0,237.8L495.8,243.8L497.9,251.0L501.0,258.4L503.9,264.9L507.0,270.4L509.8,274.8L512.8,278.2L515.7,280.7L517.8,281.9L519.7,282.3L522.5,281.6L525.6,279.7L528.6,276.0L531.6,270.8L534.2,264.4L536.5,256.9L538.5,249.4L540.5,241.1L542.5,228.7L544.5,210.7L546.5,196.2L548.4,184.5L549.6,180.8L550.6,180.2L551.8,183.7L552.9,190.9L554.8,202.2L556.8,215.7L559.3,232.2L561.8,247.8L564.2,261.2L566.7,272.6L569.2,283.7L571.2,290.2L572.8,293.4L574.3,294.6L575.9,293.8L578.1,290.6L580.2,284.2L582.1,276.7L584.1,269.8L586.2,264.4L588.0,262.0L589.3,261.4L590.7,262.7L592.8,267.7L595.0,274.1L597.5,279.7L600.9,285.1L603.0,286.6L604.9,287.0L607.0,286.5L608.8,285.4L611.0,283.0L612.8,280.5L614.8,276.4L616.7,271.6L618.7,252.8L621.2,243.8L623.7,235.5L626.2,228.5L628.6,223.1L630.6,220.6L632.6,219.6L635.0,221.2L637.5,224.6L640.5,229.7L643.5,235.5L646.0,241.8L648.4,247.8L650.0,253.7L652.5,259.2L654.9,263.7L657.0,266.7L658.6,267.8L660.5,267.4L662.3,265.8L664.8,261.4L667.3,255.9L669.2,251.0L671.0,246.0L672.8,240.8L674.2,238.0L675.4,238.4L676.7,242.2L678.2,247.2L679.7,253.4L681.5,261.2L683.4,269.5L685.2,276.7L687.1,283.1L689.0,288.0L690.8,291.7L692.6,294.6L694.5,296.7L696.0,297.4L697.5,297.4L699.0,296.3L700.7,294.2L702.3,291.2L703.9,288.0L705.2,285.8L706.4,284.3L707.7,283.3L708.9,283.1L710.3,283.5L711.8,284.3L713.3,285.0L714.8,285.1L716.4,284.2L718.0,282.6L719.8,280.0L721.7,276.9L724.2,271.7L726.7,266.5L729.2,261.8L731.5,258.6L733.5,257.2L735.3,257.1L737.8,258.8L741.5,264.5L745.2,270.7L749.0,275.2L751.0,276.5L752.7,276.9L754.5,276.5L756.4,275.7L758.0,274.5L759.4,273.9L760.6,274.4L761.8,275.7L763.4,279.0L765.0,283.1L766.9,288.0L768.8,293.0L770.6,297.0L772.5,300.4L774.3,303.2L776.2,305.4L778.0,306.8L779.9,307.3L781.8,306.8L783.6,305.9L785.2,304.9L786.6,304.1L787.7,303.7L788.6,303.6L789.8,304.0L791.0,304.9L792.9,306.2L794.8,307.3L796.6,307.8L798.5,307.8L800.5,307.4L802.4,306.8L802.4,355.0L492.5,355.0Z" fill="#b0b0b0" clip-path="url(#ce)"/>
<line x1="554.2" y1="164.8" x2="554.2" y2="355.0" stroke="#008000" stroke-width="3.6" stroke-dasharray="13 12.3"/>
<line x1="590.9" y1="164.8" x2="590.9" y2="355.0" stroke="#008000" stroke-width="3.6" stroke-dasharray="13 12.3"/>
<line x1="627.1" y1="164.8" x2="627.1" y2="355.0" stroke="#008000" stroke-width="3.6" stroke-dasharray="13 12.3"/>
<line x1="492.5" y1="204.05" x2="801.8" y2="204.05" stroke="#000" stroke-width="1.0"/>
<path d="M492.5,197.6C493.7,197.7 497.4,197.6 499.9,197.9C502.4,198.2 504.8,199.0 507.3,199.4C509.8,199.8 511.9,200.3 514.8,200.6C517.7,200.9 521.8,201.3 524.7,201.2C527.6,201.1 529.8,200.8 532.1,200.1C534.4,199.4 536.6,198.1 538.3,197.3C539.9,196.5 541.0,195.7 542.0,195.4C543.0,195.2 543.6,195.3 544.2,195.8C544.8,196.3 545.1,196.6 545.6,198.5C546.1,200.4 546.7,203.5 547.4,207.0C548.1,210.5 549.1,216.1 549.9,219.4C550.7,222.7 551.6,225.2 552.4,226.8C553.2,228.4 553.9,229.0 554.9,228.8C555.9,228.6 557.0,227.8 558.1,225.6C559.2,223.4 560.6,219.0 561.8,215.7C563.0,212.4 564.3,208.0 565.5,205.8C566.7,203.6 567.4,202.9 569.2,202.3C571.1,201.7 573.3,202.0 576.6,202.1C579.9,202.2 585.3,202.8 589.0,202.8C592.7,202.8 596.0,202.6 598.9,202.1C601.8,201.6 603.8,200.8 606.3,199.8C608.8,198.8 611.8,197.1 613.8,195.9C615.8,194.8 617.1,193.4 618.2,192.9C619.3,192.4 619.6,192.4 620.2,192.8C620.8,193.2 621.2,194.1 621.6,195.5C622.0,196.9 622.2,198.3 622.6,201.5C623.0,204.7 623.3,209.0 623.7,214.5C624.1,220.0 624.5,226.9 624.9,234.3C625.3,241.7 625.6,248.4 625.9,259.0C626.2,269.6 626.4,291.4 626.5,297.9C626.8,294.8 627.7,285.5 628.5,279.0C629.3,272.5 630.3,265.2 631.1,259.0C631.9,252.8 632.5,247.1 633.1,241.7C633.7,236.3 634.1,231.8 634.8,226.8C635.5,221.9 636.5,215.9 637.3,212.0C638.1,208.1 639.0,205.6 639.8,203.3C640.6,201.0 641.2,199.8 642.2,198.4C643.2,197.0 644.2,195.7 645.9,194.9C647.6,194.1 650.3,194.1 652.4,193.4C654.5,192.7 657.1,191.5 658.6,190.9C660.1,190.3 660.7,190.1 661.5,190.0C662.3,189.9 662.7,190.0 663.2,190.6C663.8,191.2 664.1,191.7 664.8,193.4C665.5,195.1 666.5,198.1 667.3,200.8C668.1,203.5 668.9,206.7 669.8,209.5C670.7,212.3 671.7,215.6 672.7,217.4C673.7,219.2 674.7,220.2 675.9,220.1C677.1,220.0 678.2,218.7 679.7,216.9C681.2,215.1 682.8,211.6 684.6,209.5C686.5,207.4 688.3,205.3 690.8,204.1C693.3,202.9 696.4,203.0 699.5,202.4C702.6,201.8 706.5,201.5 709.4,200.6C712.3,199.7 714.8,198.7 716.8,197.1C718.8,195.5 720.3,193.2 721.7,190.9C723.1,188.6 724.2,186.0 725.4,183.5C726.6,181.0 727.9,177.6 728.7,176.1C729.5,174.6 729.8,174.5 730.2,174.4C730.6,174.3 730.9,174.3 731.2,175.6C731.5,176.9 731.6,178.4 731.8,182.0C732.0,185.6 732.2,188.4 732.4,197.1C732.6,205.8 732.9,217.2 733.0,234.3C733.1,251.5 733.2,281.1 733.3,300.0C733.4,318.9 733.5,339.6 733.6,347.5C733.8,342.9 734.4,330.4 734.8,320.0C735.2,309.6 735.6,295.2 736.0,285.0C736.4,274.8 736.8,266.2 737.1,259.0C737.5,251.8 737.7,247.9 738.1,241.7C738.5,235.5 739.0,227.7 739.6,221.9C740.2,216.1 740.8,211.1 741.5,207.0C742.2,202.9 743.1,199.7 744.0,197.1C744.9,194.5 746.0,193.0 747.0,191.7C748.0,190.4 749.4,190.2 750.2,189.2C751.0,188.2 751.2,187.0 751.6,185.8C752.0,184.6 752.4,181.9 752.8,181.8C753.2,181.7 753.5,183.0 754.0,185.2C754.5,187.3 755.2,191.5 755.9,194.7C756.6,197.9 757.6,201.9 758.4,204.6C759.2,207.3 759.9,209.1 760.8,210.7C761.7,212.3 762.7,213.8 763.8,214.0C764.9,214.2 766.0,213.2 767.5,212.0C769.0,210.8 770.6,208.2 772.5,207.0C774.4,205.8 776.4,205.2 778.7,204.6C781.0,204.0 783.6,203.9 786.1,203.3C788.6,202.7 791.4,202.0 793.5,200.8C795.6,199.6 797.1,198.1 798.5,195.9C799.9,193.7 801.2,188.9 801.8,187.5" fill="none" stroke="#000" stroke-width="2.6" stroke-linejoin="miter" stroke-miterlimit="10" clip-path="url(#ce)"/>
<path d="M493.7,208.4V215.6M498.7,210.1V215.3M504.9,211.9V217.1M512.3,194.2V201.0M519.7,204.9V208.1M526.6,204.0V210.0M534.1,215.6V220.8M540.7,226.8V235.2M548.7,261.2V269.2M555.9,305.8V316.6M561.8,245.8V253.8M565.5,220.7V225.5M569.7,204.5V208.5M575.4,203.4V205.8M584.1,214.4V218.4M590.2,220.3V227.5M597.7,209.5V213.5M600.1,223.1V229.5M605.8,217.4V221.4M612.5,214.3V219.5M619.2,229.3V235.3M627.4,249.4V256.6M634.8,273.8V282.2M642.9,258.8V264.0M648.6,242.6V248.6M651.2,240.8V247.6M654.9,242.0V248.8M662.9,243.6V247.2M670.8,266.3V273.1M674.1,292.2V300.6M685.1,231.6V236.0M690.8,207.6V210.4M708.1,230.4V235.6M715.0,221.1V225.1M717.3,216.4V222.4M726.8,242.0V248.8M734.9,305.7V316.7M743.0,291.7V296.9M748.9,263.6V268.0M756.3,269.3V276.1M763.7,262.0V268.4M771.2,236.1V238.9M779.2,230.6V235.4M786.1,235.9V241.5M793.0,225.5V230.7" stroke="#000" stroke-width="2.3" fill="none"/>
<path d="M489.8,208.4h7.7M489.8,215.6h7.7M494.8,210.1h7.7M494.8,215.3h7.7M501.0,211.9h7.7M501.0,217.1h7.7M508.4,194.2h7.7M508.4,201.0h7.7M515.9,204.9h7.7M515.9,208.1h7.7M522.8,204.0h7.7M522.8,210.0h7.7M530.2,215.6h7.7M530.2,220.8h7.7M536.9,226.8h7.7M536.9,235.2h7.7M544.9,261.2h7.7M544.9,269.2h7.7M552.0,305.8h7.7M552.0,316.6h7.7M557.9,245.8h7.7M557.9,253.8h7.7M561.6,220.7h7.7M561.6,225.5h7.7M565.9,204.5h7.7M565.9,208.5h7.7M571.5,203.4h7.7M571.5,205.8h7.7M580.2,214.4h7.7M580.2,218.4h7.7M586.4,220.3h7.7M586.4,227.5h7.7M593.9,209.5h7.7M593.9,213.5h7.7M596.2,223.1h7.7M596.2,229.5h7.7M601.9,217.4h7.7M601.9,221.4h7.7M608.6,214.3h7.7M608.6,219.5h7.7M615.4,229.3h7.7M615.4,235.3h7.7M623.5,249.4h7.7M623.5,256.6h7.7M630.9,273.8h7.7M630.9,282.2h7.7M639.0,258.8h7.7M639.0,264.0h7.7M644.8,242.6h7.7M644.8,248.6h7.7M647.4,240.8h7.7M647.4,247.6h7.7M651.0,242.0h7.7M651.0,248.8h7.7M659.0,243.6h7.7M659.0,247.2h7.7M666.9,266.3h7.7M666.9,273.1h7.7M670.2,292.2h7.7M670.2,300.6h7.7M681.2,231.6h7.7M681.2,236.0h7.7M686.9,207.6h7.7M686.9,210.4h7.7M704.2,230.4h7.7M704.2,235.6h7.7M711.1,221.1h7.7M711.1,225.1h7.7M713.4,216.4h7.7M713.4,222.4h7.7M722.9,242.0h7.7M722.9,248.8h7.7M731.0,305.7h7.7M731.0,316.7h7.7M739.1,291.7h7.7M739.1,296.9h7.7M745.0,263.6h7.7M745.0,268.0h7.7M752.4,269.3h7.7M752.4,276.1h7.7M759.9,262.0h7.7M759.9,268.4h7.7M767.4,236.1h7.7M767.4,238.9h7.7M775.4,230.6h7.7M775.4,235.4h7.7M782.2,235.9h7.7M782.2,241.5h7.7M789.1,225.5h7.7M789.1,230.7h7.7" stroke="#000" stroke-width="2.4" fill="none"/>
<rect x="492.5" y="164.8" width="309.3" height="190.2" fill="none" stroke="#000" stroke-width="1.3"/>
<path d="M500.20,355.0v-3.2M500.20,164.8v3.2M519.05,355.0v-3.2M519.05,164.8v3.2M537.90,355.0v-3.2M537.90,164.8v3.2M556.75,355.0v-3.2M556.75,164.8v3.2M575.60,355.0v-3.2M575.60,164.8v3.2M594.45,355.0v-3.2M594.45,164.8v3.2M613.30,355.0v-3.2M613.30,164.8v3.2M632.15,355.0v-3.2M632.15,164.8v3.2M651.00,355.0v-3.2M651.00,164.8v3.2M669.85,355.0v-3.2M669.85,164.8v3.2M688.70,355.0v-3.2M688.70,164.8v3.2M707.55,355.0v-3.2M707.55,164.8v3.2M726.40,355.0v-3.2M726.40,164.8v3.2M745.25,355.0v-3.2M745.25,164.8v3.2M764.10,355.0v-3.2M764.10,164.8v3.2M782.95,355.0v-3.2M782.95,164.8v3.2M492.5,165.34h2.6M801.8,165.34h-2.6M492.5,170.16h2.6M801.8,170.16h-2.6M492.5,174.98h2.6M801.8,174.98h-2.6M492.5,179.80h4.6M801.8,179.80h-4.6M492.5,184.62h2.6M801.8,184.62h-2.6M492.5,189.44h2.6M801.8,189.44h-2.6M492.5,194.26h2.6M801.8,194.26h-2.6M492.5,199.08h2.6M801.8,199.08h-2.6M492.5,203.90h4.6M801.8,203.90h-4.6M492.5,208.72h2.6M801.8,208.72h-2.6M492.5,213.54h2.6M801.8,213.54h-2.6M492.5,218.36h2.6M801.8,218.36h-2.6M492.5,223.18h2.6M801.8,223.18h-2.6M492.5,228.00h4.6M801.8,228.00h-4.6M492.5,232.82h2.6M801.8,232.82h-2.6M492.5,237.64h2.6M801.8,237.64h-2.6M492.5,242.46h2.6M801.8,242.46h-2.6M492.5,247.28h2.6M801.8,247.28h-2.6M492.5,252.10h4.6M801.8,252.10h-4.6M492.5,256.92h2.6M801.8,256.92h-2.6M492.5,261.74h2.6M801.8,261.74h-2.6M492.5,266.56h2.6M801.8,266.56h-2.6M492.5,271.38h2.6M801.8,271.38h-2.6M492.5,276.20h4.6M801.8,276.20h-4.6M492.5,281.02h2.6M801.8,281.02h-2.6M492.5,285.84h2.6M801.8,285.84h-2.6M492.5,290.66h2.6M801.8,290.66h-2.6M492.5,295.48h2.6M801.8,295.48h-2.6M492.5,300.30h4.6M801.8,300.30h-4.6M492.5,305.12h2.6M801.8,305.12h-2.6M492.5,309.94h2.6M801.8,309.94h-2.6M492.5,314.76h2.6M801.8,314.76h-2.6M492.5,319.58h2.6M801.8,319.58h-2.6M492.5,324.40h4.6M801.8,324.40h-4.6M492.5,329.22h2.6M801.8,329.22h-2.6M492.5,334.04h2.6M801.8,334.04h-2.6M492.5,338.86h2.6M801.8,338.86h-2.6M492.5,343.68h2.6M801.8,343.68h-2.6M492.5,348.50h4.6M801.8,348.50h-4.6M492.5,353.32h2.6M801.8,353.32h-2.6" stroke="#000" stroke-width="0.9" fill="none"/>
<text x="563.8" y="183.6" font-size="15.5" textLength="15.6" lengthAdjust="spacingAndGlyphs" text-anchor="start" >8S</text>
<line x1="551.9" y1="179.3" x2="561.9" y2="179.3" stroke="#000" stroke-width="1.0"/>
<text x="595.4" y="264.3" font-size="15.5" textLength="17.8" lengthAdjust="spacingAndGlyphs" text-anchor="start" >8P</text>
<line x1="588.0" y1="260.9" x2="593.9" y2="258.6" stroke="#000" stroke-width="1.0"/>
<text x="618.2" y="189.0" font-size="15.5" textLength="19.0" lengthAdjust="spacingAndGlyphs" text-anchor="start" >8D</text>
<line x1="631.1" y1="192.2" x2="631.1" y2="222.0" stroke="#000" stroke-width="1.0"/>
<text x="675.3" y="190.2" font-size="15.5" textLength="16.0" lengthAdjust="spacingAndGlyphs" text-anchor="start" >9S</text>
<line x1="675.2" y1="193.4" x2="675.2" y2="236.8" stroke="#000" stroke-width="1.0"/>
<text x="726.8" y="177.9" font-size="15.5" textLength="19.2" lengthAdjust="spacingAndGlyphs" text-anchor="start" >9D</text>
<line x1="735.3" y1="182.8" x2="735.3" y2="262" stroke="#000" stroke-width="1.0"/>
<text x="751.4" y="259.6" font-size="15.5" textLength="23.6" lengthAdjust="spacingAndGlyphs" text-anchor="start" >10S</text>
<line x1="758.4" y1="261.4" x2="758.4" y2="269.0" stroke="#000" stroke-width="1.0"/>
<text x="702.9" y="303.8" font-size="15.5" textLength="17.8" lengthAdjust="spacingAndGlyphs" text-anchor="start" >9P</text>
<line x1="708.8" y1="283.8" x2="708.8" y2="292.8" stroke="#000" stroke-width="1.0"/>
<text x="774.6" y="337.9" font-size="15.5" textLength="24.8" lengthAdjust="spacingAndGlyphs" text-anchor="start" >10P</text>
<line x1="786.9" y1="302.8" x2="786.9" y2="317.8" stroke="#000" stroke-width="1.0"/>
<text x="467.5" y="208.9" font-size="15.5" textLength="19.8" lengthAdjust="spacingAndGlyphs" text-anchor="start" >0.0</text>
<line x1="457.2" y1="251.6" x2="465.9" y2="251.6" stroke="#000" stroke-width="1.1"/>
<text x="467.5" y="256.9" font-size="15.5" textLength="19.8" lengthAdjust="spacingAndGlyphs" text-anchor="start" >0.1</text>
<line x1="457.2" y1="299.6" x2="465.9" y2="299.6" stroke="#000" stroke-width="1.1"/>
<text x="467.5" y="304.9" font-size="15.5" textLength="19.8" lengthAdjust="spacingAndGlyphs" text-anchor="start" >0.2</text>
<line x1="457.2" y1="348.1" x2="465.9" y2="348.1" stroke="#000" stroke-width="1.1"/>
<text x="467.5" y="353.4" font-size="15.5" textLength="19.8" lengthAdjust="spacingAndGlyphs" text-anchor="start" >0.3</text>
<text x="478.1" y="376.8" font-size="15.6" textLength="44.8" lengthAdjust="spacingAndGlyphs" text-anchor="start" >2.1704</text>
<text x="551.8" y="376.8" font-size="15.6" textLength="44.8" lengthAdjust="spacingAndGlyphs" text-anchor="start" >2.1706</text>
<text x="626.6" y="376.8" font-size="15.6" textLength="44.8" lengthAdjust="spacingAndGlyphs" text-anchor="start" >2.1708</text>
<text x="701.0" y="376.8" font-size="15.6" textLength="44.8" lengthAdjust="spacingAndGlyphs" text-anchor="start" >2.1710</text>
<text x="775.0" y="376.8" font-size="15.6" textLength="44.8" lengthAdjust="spacingAndGlyphs" text-anchor="start" >2.1712</text>
<text x="437.5" y="156.6" font-size="17.6" textLength="19.6" lengthAdjust="spacingAndGlyphs" text-anchor="start" >(e)</text>
<text x="544.8" y="156.2" font-size="15.6" font-style="italic" textLength="9.6" lengthAdjust="spacingAndGlyphs" text-anchor="start" >E</text>
<text x="554.5" y="159.7" font-size="10.8" textLength="10.8" lengthAdjust="spacingAndGlyphs" text-anchor="start" >8S</text>
<text x="582.4" y="156.2" font-size="15.6" font-style="italic" textLength="9.6" lengthAdjust="spacingAndGlyphs" text-anchor="start" >E</text>
<text x="592.1" y="159.7" font-size="10.8" textLength="10.8" lengthAdjust="spacingAndGlyphs" text-anchor="start" >8P</text>
<text x="615.7" y="156.2" font-size="15.6" font-style="italic" textLength="9.6" lengthAdjust="spacingAndGlyphs" text-anchor="start" >E</text>
<text x="625.4" y="159.7" font-size="10.8" textLength="12.4" lengthAdjust="spacingAndGlyphs" text-anchor="start" >8D</text>
<text x="621.8" y="398.4" font-size="15.8" font-style="italic" textLength="9.8" lengthAdjust="spacingAndGlyphs" text-anchor="start" >E</text>
<text x="637.0" y="398.4" font-size="15.8" textLength="29.2" lengthAdjust="spacingAndGlyphs" text-anchor="start" >(eV)</text>
<g transform="translate(450.8,262.8) rotate(-90)">
<text x="-43.4" y="0.0" font-size="15.8" textLength="11.2" lengthAdjust="spacingAndGlyphs" text-anchor="start" >Δ</text>
<text x="-31.6" y="0.0" font-size="15.8" font-style="italic" textLength="6.0" lengthAdjust="spacingAndGlyphs" text-anchor="start" >I</text>
<text x="-25.2" y="3.6" font-size="10.6" textLength="19.8" lengthAdjust="spacingAndGlyphs" text-anchor="start" >CAR</text>
<text x="-0.6" y="0.0" font-size="15.8" textLength="43.6" lengthAdjust="spacingAndGlyphs" text-anchor="start" >(kcps)</text>
</g>
</svg>
</body></html>
